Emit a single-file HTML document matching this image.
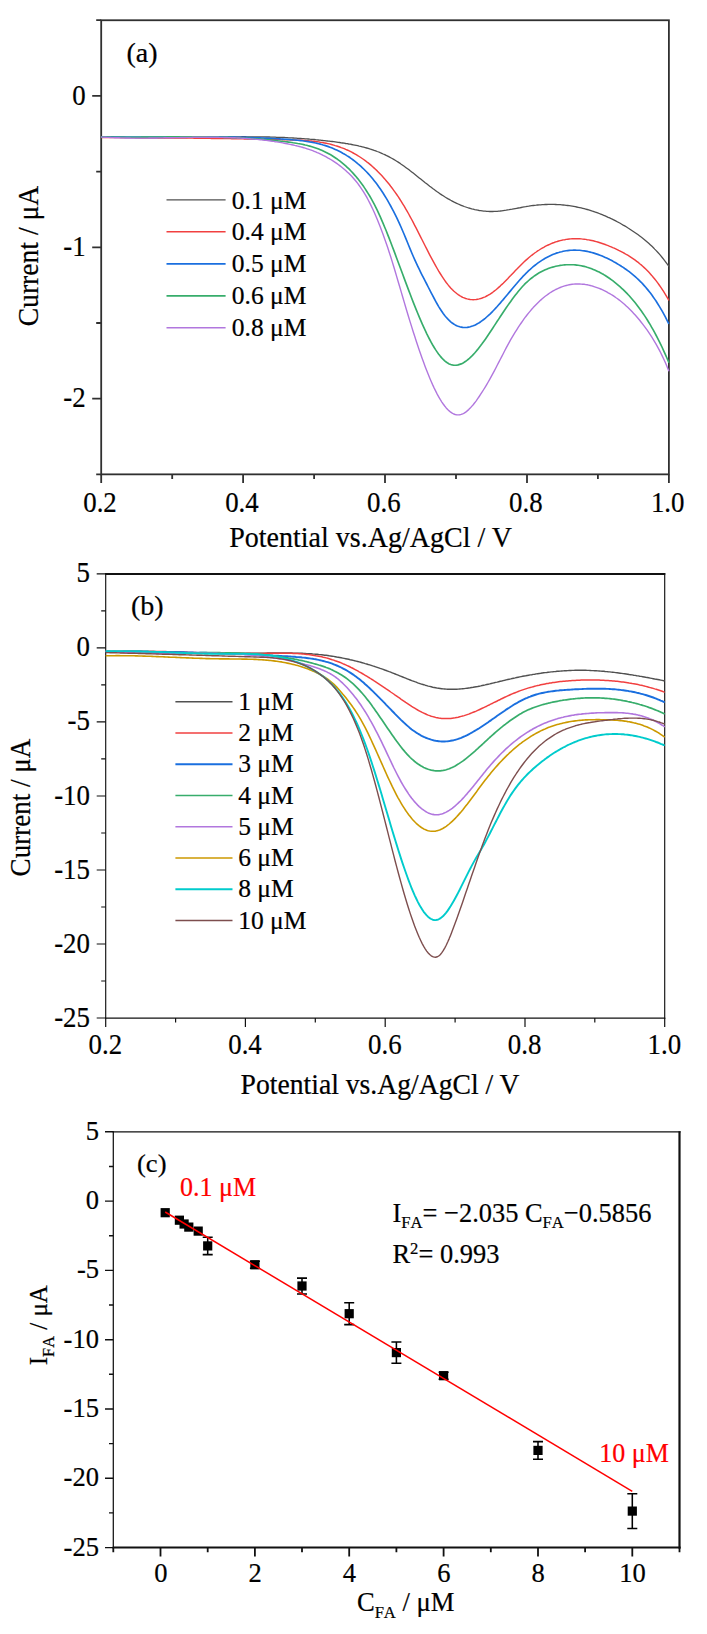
<!DOCTYPE html>
<html><head><meta charset="utf-8"><title>Figure</title>
<style>
html,body{margin:0;padding:0;background:#fff}
svg{display:block;font-family:"Liberation Serif","Times New Roman",serif}
text{stroke-width:0.22px}
</style></head><body>
<svg width="707" height="1634" viewBox="0 0 707 1634">
<rect width="707" height="1634" fill="#fff"/>
<rect x="101.2" y="20.25" width="567.7" height="454.1" fill="none" stroke="#303030" stroke-width="1.8"/>
<path d="M92.2,95.9H101.2M92.2,247.3H101.2M92.2,398.7H101.2M96.2,20.2H101.2M96.2,171.6H101.2M96.2,323.0H101.2M96.2,474.4H101.2" stroke="#303030" stroke-width="1.8" fill="none"/>
<path d="M101.2,474.4V482.9M243.1,474.4V482.9M385.0,474.4V482.9M527.0,474.4V482.9M668.9,474.4V482.9M172.2,474.4V478.9M314.1,474.4V478.9M456.0,474.4V478.9M597.9,474.4V478.9" stroke="#303030" stroke-width="1.8" fill="none"/>
<text transform="translate(85.6,104.6) scale(0.91,1)" font-size="29.5" text-anchor="end" fill="#000" stroke="#000">0</text>
<text transform="translate(85.6,256.0) scale(0.91,1)" font-size="29.5" text-anchor="end" fill="#000" stroke="#000">-1</text>
<text transform="translate(85.6,407.4) scale(0.91,1)" font-size="29.5" text-anchor="end" fill="#000" stroke="#000">-2</text>
<text transform="translate(100.0,511.5) scale(0.91,1)" font-size="29.5" text-anchor="middle" fill="#000" stroke="#000">0.2</text>
<text transform="translate(241.9,511.5) scale(0.91,1)" font-size="29.5" text-anchor="middle" fill="#000" stroke="#000">0.4</text>
<text transform="translate(383.8,511.5) scale(0.91,1)" font-size="29.5" text-anchor="middle" fill="#000" stroke="#000">0.6</text>
<text transform="translate(525.8,511.5) scale(0.91,1)" font-size="29.5" text-anchor="middle" fill="#000" stroke="#000">0.8</text>
<text transform="translate(667.7,511.5) scale(0.91,1)" font-size="29.5" text-anchor="middle" fill="#000" stroke="#000">1.0</text>
<text transform="translate(229.2,547.2) scale(0.925,1)" font-size="30.3" text-anchor="start" fill="#000" stroke="#000">Potential vs.Ag/AgCl / V</text>
<text transform="translate(37.9,326.3) rotate(-90) scale(0.9111250000000001,1)" font-size="30.3" text-anchor="start" fill="#000" stroke="#000">Current / μA</text>
<text transform="translate(126.4,62.3)" font-size="28" text-anchor="start" fill="#000" stroke="#000">(a)</text>
<path d="M166.5,199.9H225.6" stroke="#515151" stroke-width="1.3"/>
<text transform="translate(231.8,208.5)" font-size="25.5" text-anchor="start" fill="#000" stroke="#000">0.1 μM</text>
<path d="M166.5,231.8H225.6" stroke="#F14040" stroke-width="1.45"/>
<text transform="translate(231.8,240.4)" font-size="25.5" text-anchor="start" fill="#000" stroke="#000">0.4 μM</text>
<path d="M166.5,263.8H225.6" stroke="#1A6FDF" stroke-width="1.65"/>
<text transform="translate(231.8,272.4)" font-size="25.5" text-anchor="start" fill="#000" stroke="#000">0.5 μM</text>
<path d="M166.5,295.8H225.6" stroke="#37AD6B" stroke-width="1.65"/>
<text transform="translate(231.8,304.4)" font-size="25.5" text-anchor="start" fill="#000" stroke="#000">0.6 μM</text>
<path d="M166.5,327.7H225.6" stroke="#B177DE" stroke-width="1.4"/>
<text transform="translate(231.8,336.3)" font-size="25.5" text-anchor="start" fill="#000" stroke="#000">0.8 μM</text>
<g fill="none" stroke-linejoin="round">
<path d="M101.2,136.7 102.7,136.7 104.2,136.8 105.7,136.9 107.2,137.0 108.7,137.0 110.2,137.1 111.7,137.2 113.2,137.2 114.7,137.3 116.2,137.3 117.7,137.4 119.2,137.4 120.7,137.5 122.2,137.5 123.7,137.5 125.2,137.6 126.7,137.6 128.2,137.6 129.7,137.7 131.2,137.7 132.7,137.7 134.2,137.7 135.7,137.8 137.2,137.8 138.7,137.8 140.2,137.8 141.7,137.8 143.2,137.8 144.7,137.8 146.2,137.8 147.7,137.8 149.2,137.8 150.7,137.8 152.2,137.8 153.7,137.8 155.2,137.8 156.7,137.8 158.2,137.8 159.7,137.8 161.2,137.8 162.7,137.8 164.2,137.8 165.7,137.7 167.2,137.7 168.7,137.7 170.2,137.7 171.7,137.7 173.2,137.7 174.7,137.6 176.2,137.6 177.7,137.6 179.2,137.6 180.7,137.6 182.2,137.5 183.7,137.5 185.2,137.5 186.7,137.5 188.2,137.4 189.7,137.4 191.2,137.4 192.7,137.4 194.2,137.3 195.7,137.3 197.2,137.3 198.7,137.3 200.2,137.2 201.7,137.2 203.2,137.2 204.7,137.1 206.2,137.1 207.7,137.1 209.2,137.1 210.7,137.0 212.2,137.0 213.7,137.0 215.2,137.0 216.7,137.0 218.2,136.9 219.7,136.9 221.2,136.9 222.7,136.9 224.2,136.9 225.7,136.8 227.2,136.8 228.7,136.8 230.2,136.8 231.7,136.8 233.2,136.8 234.7,136.8 236.2,136.8 237.7,136.8 239.2,136.8 240.7,136.8 242.2,136.7 243.7,136.7 245.2,136.7 246.7,136.8 248.2,136.8 249.7,136.8 251.2,136.8 252.7,136.8 254.2,136.8 255.7,136.8 257.2,136.8 258.7,136.8 260.2,136.9 261.7,136.9 263.2,136.9 264.7,136.9 266.2,137.0 267.7,137.0 269.2,137.0 270.7,137.1 272.2,137.1 273.7,137.2 275.2,137.2 276.7,137.3 278.2,137.3 279.7,137.4 281.2,137.4 282.7,137.5 284.2,137.5 285.7,137.6 287.2,137.7 288.7,137.8 290.2,137.8 291.7,137.9 293.2,138.0 294.7,138.1 296.2,138.2 297.7,138.3 299.2,138.4 300.7,138.5 302.2,138.6 303.7,138.7 305.2,138.8 306.7,138.9 308.2,139.0 309.7,139.2 311.2,139.3 312.7,139.4 314.2,139.5 315.7,139.7 317.2,139.8 318.7,140.0 320.2,140.1 321.7,140.3 323.2,140.5 324.7,140.6 326.2,140.8 327.7,141.0 329.2,141.1 330.7,141.3 332.2,141.5 333.7,141.7 335.2,141.9 336.7,142.1 338.2,142.3 339.7,142.5 341.2,142.8 342.7,143.0 344.2,143.2 345.7,143.5 347.2,143.7 348.7,144.0 350.2,144.2 351.7,144.5 353.2,144.8 354.7,145.1 356.2,145.4 357.7,145.7 359.2,146.1 360.7,146.4 362.2,146.8 363.7,147.2 365.2,147.6 366.7,148.0 368.2,148.4 369.7,148.9 371.2,149.3 372.7,149.8 374.2,150.4 375.7,150.9 377.2,151.5 378.7,152.0 380.2,152.7 381.7,153.3 383.2,154.0 384.7,154.6 386.2,155.4 387.7,156.1 389.2,156.9 390.7,157.7 392.2,158.5 393.7,159.4 395.2,160.3 396.7,161.2 398.2,162.1 399.7,163.1 401.2,164.2 402.7,165.2 404.2,166.3 405.7,167.4 407.2,168.5 408.7,169.6 410.2,170.8 411.7,171.9 413.2,173.1 414.7,174.3 416.2,175.5 417.7,176.7 419.2,177.9 420.7,179.1 422.2,180.3 423.7,181.5 425.2,182.7 426.7,183.8 428.2,185.0 429.7,186.2 431.2,187.3 432.7,188.5 434.2,189.6 435.7,190.7 437.2,191.8 438.7,192.8 440.2,193.9 441.7,194.9 443.2,195.8 444.7,196.8 446.2,197.7 447.7,198.6 449.2,199.4 450.7,200.3 452.2,201.1 453.7,201.9 455.2,202.6 456.7,203.3 458.2,204.0 459.7,204.7 461.2,205.3 462.7,205.9 464.2,206.5 465.7,207.0 467.2,207.5 468.7,208.0 470.2,208.4 471.7,208.9 473.2,209.2 474.7,209.6 476.2,209.9 477.7,210.2 479.2,210.5 480.7,210.7 482.2,210.9 483.7,211.1 485.2,211.2 486.7,211.4 488.2,211.4 489.7,211.5 491.2,211.5 492.7,211.5 494.2,211.4 495.7,211.4 497.2,211.3 498.7,211.1 500.2,211.0 501.7,210.8 503.2,210.6 504.7,210.4 506.2,210.2 507.7,209.9 509.2,209.7 510.7,209.4 512.2,209.2 513.7,208.9 515.2,208.6 516.7,208.3 518.2,208.0 519.7,207.8 521.2,207.5 522.7,207.2 524.2,206.9 525.7,206.7 527.2,206.4 528.7,206.2 530.2,205.9 531.7,205.7 533.2,205.5 534.7,205.3 536.2,205.2 537.7,205.0 539.2,204.9 540.7,204.8 542.2,204.7 543.7,204.6 545.2,204.5 546.7,204.5 548.2,204.4 549.7,204.4 551.2,204.4 552.7,204.4 554.2,204.4 555.7,204.5 557.2,204.6 558.7,204.6 560.2,204.7 561.7,204.9 563.2,205.0 564.7,205.1 566.2,205.3 567.7,205.5 569.2,205.7 570.7,205.9 572.2,206.1 573.7,206.4 575.2,206.7 576.7,207.0 578.2,207.3 579.7,207.6 581.2,207.9 582.7,208.3 584.2,208.7 585.7,209.1 587.2,209.5 588.7,209.9 590.2,210.4 591.7,210.9 593.2,211.3 594.7,211.9 596.2,212.4 597.7,212.9 599.2,213.5 600.7,214.1 602.2,214.7 603.7,215.3 605.2,215.9 606.7,216.6 608.2,217.3 609.7,217.9 611.2,218.7 612.7,219.4 614.2,220.1 615.7,220.9 617.2,221.7 618.7,222.5 620.2,223.3 621.7,224.2 623.2,225.1 624.7,225.9 626.2,226.8 627.7,227.8 629.2,228.7 630.7,229.7 632.2,230.7 633.7,231.7 635.2,232.7 636.7,233.7 638.2,234.8 639.7,235.9 641.2,237.1 642.7,238.2 644.2,239.4 645.7,240.7 647.2,242.0 648.7,243.3 650.2,244.7 651.7,246.1 653.2,247.5 654.7,249.1 656.2,250.6 657.7,252.2 659.2,253.9 660.7,255.7 662.2,257.5 663.7,259.4 665.2,261.3 666.7,263.3 668.2,265.4 668.9,266.4" stroke="#515151" stroke-width="1.3"/>
<path d="M101.2,137.4 102.7,137.4 104.2,137.4 105.7,137.4 107.2,137.4 108.7,137.4 110.2,137.4 111.7,137.4 113.2,137.4 114.7,137.5 116.2,137.5 117.7,137.5 119.2,137.5 120.7,137.5 122.2,137.5 123.7,137.5 125.2,137.5 126.7,137.6 128.2,137.6 129.7,137.6 131.2,137.6 132.7,137.6 134.2,137.6 135.7,137.6 137.2,137.6 138.7,137.6 140.2,137.7 141.7,137.7 143.2,137.7 144.7,137.7 146.2,137.7 147.7,137.7 149.2,137.7 150.7,137.7 152.2,137.8 153.7,137.8 155.2,137.8 156.7,137.8 158.2,137.8 159.7,137.8 161.2,137.8 162.7,137.8 164.2,137.9 165.7,137.9 167.2,137.9 168.7,137.9 170.2,137.9 171.7,137.9 173.2,137.9 174.7,138.0 176.2,138.0 177.7,138.0 179.2,138.0 180.7,138.0 182.2,138.0 183.7,138.0 185.2,138.1 186.7,138.1 188.2,138.1 189.7,138.1 191.2,138.1 192.7,138.1 194.2,138.2 195.7,138.2 197.2,138.2 198.7,138.2 200.2,138.2 201.7,138.2 203.2,138.3 204.7,138.3 206.2,138.3 207.7,138.3 209.2,138.3 210.7,138.4 212.2,138.4 213.7,138.4 215.2,138.4 216.7,138.4 218.2,138.5 219.7,138.5 221.2,138.5 222.7,138.5 224.2,138.5 225.7,138.6 227.2,138.6 228.7,138.6 230.2,138.6 231.7,138.7 233.2,138.7 234.7,138.7 236.2,138.7 237.7,138.8 239.2,138.8 240.7,138.8 242.2,138.8 243.7,138.9 245.2,138.9 246.7,138.9 248.2,138.9 249.7,139.0 251.2,139.0 252.7,139.0 254.2,139.1 255.7,139.1 257.2,139.1 258.7,139.1 260.2,139.2 261.7,139.2 263.2,139.2 264.7,139.3 266.2,139.3 267.7,139.3 269.2,139.4 270.7,139.4 272.2,139.4 273.7,139.5 275.2,139.5 276.7,139.5 278.2,139.6 279.7,139.6 281.2,139.6 282.7,139.7 284.2,139.7 285.7,139.7 287.2,139.8 288.7,139.8 290.2,139.9 291.7,139.9 293.2,140.0 294.7,140.0 296.2,140.1 297.7,140.1 299.2,140.2 300.7,140.3 302.2,140.3 303.7,140.4 305.2,140.5 306.7,140.6 308.2,140.7 309.7,140.9 311.2,141.0 312.7,141.2 314.2,141.3 315.7,141.5 317.2,141.7 318.7,141.9 320.2,142.2 321.7,142.4 323.2,142.7 324.7,143.0 326.2,143.3 327.7,143.6 329.2,143.9 330.7,144.3 332.2,144.7 333.7,145.1 335.2,145.6 336.7,146.0 338.2,146.5 339.7,147.0 341.2,147.6 342.7,148.1 344.2,148.7 345.7,149.4 347.2,150.0 348.7,150.7 350.2,151.4 351.7,152.2 353.2,153.0 354.7,153.8 356.2,154.7 357.7,155.6 359.2,156.5 360.7,157.5 362.2,158.5 363.7,159.5 365.2,160.6 366.7,161.8 368.2,162.9 369.7,164.1 371.2,165.4 372.7,166.7 374.2,168.1 375.7,169.5 377.2,170.9 378.7,172.4 380.2,174.0 381.7,175.6 383.2,177.2 384.7,178.9 386.2,180.7 387.7,182.5 389.2,184.3 390.7,186.3 392.2,188.2 393.7,190.3 395.2,192.4 396.7,194.5 398.2,196.7 399.7,199.0 401.2,201.3 402.7,203.8 404.2,206.2 405.7,208.8 407.2,211.4 408.7,214.0 410.2,216.8 411.7,219.5 413.2,222.4 414.7,225.3 416.2,228.2 417.7,231.1 419.2,234.1 420.7,237.1 422.2,240.0 423.7,243.0 425.2,246.0 426.7,248.9 428.2,251.9 429.7,254.8 431.2,257.6 432.7,260.4 434.2,263.2 435.7,265.9 437.2,268.5 438.7,271.1 440.2,273.5 441.7,275.9 443.2,278.2 444.7,280.4 446.2,282.5 447.7,284.4 449.2,286.2 450.7,287.9 452.2,289.5 453.7,291.0 455.2,292.3 456.7,293.5 458.2,294.6 459.7,295.6 461.2,296.5 462.7,297.3 464.2,297.9 465.7,298.5 467.2,298.9 468.7,299.2 470.2,299.5 471.7,299.6 473.2,299.7 474.7,299.6 476.2,299.5 477.7,299.2 479.2,298.9 480.7,298.5 482.2,298.0 483.7,297.4 485.2,296.8 486.7,296.0 488.2,295.2 489.7,294.3 491.2,293.3 492.7,292.3 494.2,291.1 495.7,290.0 497.2,288.7 498.7,287.4 500.2,286.1 501.7,284.6 503.2,283.2 504.7,281.7 506.2,280.2 507.7,278.7 509.2,277.1 510.7,275.6 512.2,274.0 513.7,272.4 515.2,270.8 516.7,269.3 518.2,267.7 519.7,266.2 521.2,264.7 522.7,263.2 524.2,261.8 525.7,260.4 527.2,259.1 528.7,257.8 530.2,256.5 531.7,255.3 533.2,254.2 534.7,253.0 536.2,252.0 537.7,250.9 539.2,250.0 540.7,249.0 542.2,248.1 543.7,247.3 545.2,246.4 546.7,245.7 548.2,245.0 549.7,244.3 551.2,243.6 552.7,243.0 554.2,242.5 555.7,241.9 557.2,241.5 558.7,241.0 560.2,240.6 561.7,240.3 563.2,239.9 564.7,239.7 566.2,239.4 567.7,239.2 569.2,239.0 570.7,238.9 572.2,238.8 573.7,238.7 575.2,238.7 576.7,238.7 578.2,238.8 579.7,238.8 581.2,238.9 582.7,239.1 584.2,239.2 585.7,239.4 587.2,239.7 588.7,239.9 590.2,240.2 591.7,240.5 593.2,240.8 594.7,241.2 596.2,241.6 597.7,242.0 599.2,242.5 600.7,243.0 602.2,243.5 603.7,244.0 605.2,244.5 606.7,245.1 608.2,245.7 609.7,246.3 611.2,246.9 612.7,247.6 614.2,248.2 615.7,248.9 617.2,249.6 618.7,250.4 620.2,251.1 621.7,251.9 623.2,252.7 624.7,253.5 626.2,254.4 627.7,255.2 629.2,256.1 630.7,257.1 632.2,258.1 633.7,259.1 635.2,260.2 636.7,261.3 638.2,262.4 639.7,263.7 641.2,264.9 642.7,266.2 644.2,267.6 645.7,269.0 647.2,270.5 648.7,272.1 650.2,273.7 651.7,275.4 653.2,277.2 654.7,279.0 656.2,280.9 657.7,282.9 659.2,285.0 660.7,287.1 662.2,289.4 663.7,291.7 665.2,294.1 666.7,296.6 668.2,299.2 668.9,300.5" stroke="#F14040" stroke-width="1.45"/>
<path d="M101.2,137.0 102.7,137.0 104.2,137.0 105.7,137.0 107.2,137.1 108.7,137.1 110.2,137.1 111.7,137.1 113.2,137.1 114.7,137.1 116.2,137.1 117.7,137.1 119.2,137.1 120.7,137.1 122.2,137.1 123.7,137.1 125.2,137.1 126.7,137.1 128.2,137.1 129.7,137.1 131.2,137.1 132.7,137.1 134.2,137.1 135.7,137.1 137.2,137.1 138.7,137.1 140.2,137.1 141.7,137.1 143.2,137.1 144.7,137.1 146.2,137.1 147.7,137.1 149.2,137.1 150.7,137.1 152.2,137.1 153.7,137.0 155.2,137.0 156.7,137.0 158.2,137.0 159.7,137.0 161.2,137.0 162.7,137.0 164.2,137.0 165.7,137.0 167.2,137.0 168.7,136.9 170.2,136.9 171.7,136.9 173.2,136.9 174.7,136.9 176.2,136.9 177.7,136.9 179.2,136.9 180.7,136.9 182.2,136.9 183.7,136.9 185.2,136.9 186.7,136.8 188.2,136.8 189.7,136.8 191.2,136.8 192.7,136.8 194.2,136.8 195.7,136.8 197.2,136.8 198.7,136.8 200.2,136.8 201.7,136.8 203.2,136.8 204.7,136.8 206.2,136.8 207.7,136.8 209.2,136.8 210.7,136.8 212.2,136.9 213.7,136.9 215.2,136.9 216.7,136.9 218.2,136.9 219.7,136.9 221.2,136.9 222.7,136.9 224.2,137.0 225.7,137.0 227.2,137.0 228.7,137.0 230.2,137.0 231.7,137.1 233.2,137.1 234.7,137.1 236.2,137.2 237.7,137.2 239.2,137.2 240.7,137.3 242.2,137.3 243.7,137.3 245.2,137.4 246.7,137.4 248.2,137.5 249.7,137.5 251.2,137.6 252.7,137.6 254.2,137.7 255.7,137.7 257.2,137.8 258.7,137.8 260.2,137.9 261.7,138.0 263.2,138.0 264.7,138.1 266.2,138.2 267.7,138.2 269.2,138.3 270.7,138.4 272.2,138.5 273.7,138.5 275.2,138.6 276.7,138.7 278.2,138.8 279.7,138.9 281.2,139.0 282.7,139.1 284.2,139.2 285.7,139.3 287.2,139.4 288.7,139.5 290.2,139.6 291.7,139.7 293.2,139.9 294.7,140.0 296.2,140.1 297.7,140.3 299.2,140.4 300.7,140.6 302.2,140.8 303.7,141.0 305.2,141.2 306.7,141.4 308.2,141.6 309.7,141.9 311.2,142.1 312.7,142.4 314.2,142.7 315.7,143.0 317.2,143.4 318.7,143.7 320.2,144.1 321.7,144.5 323.2,145.0 324.7,145.4 326.2,145.9 327.7,146.4 329.2,146.9 330.7,147.5 332.2,148.1 333.7,148.7 335.2,149.4 336.7,150.1 338.2,150.8 339.7,151.5 341.2,152.3 342.7,153.2 344.2,154.0 345.7,154.9 347.2,155.9 348.7,156.8 350.2,157.8 351.7,158.9 353.2,160.0 354.7,161.1 356.2,162.3 357.7,163.6 359.2,164.8 360.7,166.2 362.2,167.6 363.7,169.0 365.2,170.5 366.7,172.0 368.2,173.6 369.7,175.3 371.2,177.0 372.7,178.8 374.2,180.7 375.7,182.6 377.2,184.6 378.7,186.7 380.2,188.8 381.7,191.0 383.2,193.3 384.7,195.7 386.2,198.1 387.7,200.7 389.2,203.3 390.7,206.0 392.2,208.8 393.7,211.7 395.2,214.7 396.7,217.7 398.2,220.9 399.7,224.1 401.2,227.5 402.7,231.0 404.2,234.5 405.7,238.1 407.2,241.8 408.7,245.5 410.2,249.1 411.7,252.7 413.2,256.2 414.7,259.6 416.2,262.9 417.7,266.1 419.2,269.2 420.7,272.3 422.2,275.3 423.7,278.2 425.2,281.1 426.7,284.0 428.2,287.0 429.7,289.9 431.2,292.8 432.7,295.7 434.2,298.5 435.7,301.3 437.2,304.0 438.7,306.6 440.2,309.0 441.7,311.3 443.2,313.5 444.7,315.5 446.2,317.3 447.7,318.9 449.2,320.4 450.7,321.8 452.2,323.0 453.7,324.0 455.2,324.9 456.7,325.7 458.2,326.3 459.7,326.8 461.2,327.1 462.7,327.4 464.2,327.5 465.7,327.5 467.2,327.4 468.7,327.1 470.2,326.8 471.7,326.3 473.2,325.8 474.7,325.2 476.2,324.4 477.7,323.6 479.2,322.7 480.7,321.7 482.2,320.6 483.7,319.5 485.2,318.3 486.7,317.0 488.2,315.7 489.7,314.3 491.2,312.8 492.7,311.3 494.2,309.7 495.7,308.1 497.2,306.5 498.7,304.8 500.2,303.1 501.7,301.3 503.2,299.6 504.7,297.8 506.2,296.0 507.7,294.2 509.2,292.4 510.7,290.6 512.2,288.8 513.7,287.0 515.2,285.2 516.7,283.5 518.2,281.7 519.7,280.0 521.2,278.4 522.7,276.7 524.2,275.2 525.7,273.6 527.2,272.2 528.7,270.7 530.2,269.4 531.7,268.0 533.2,266.7 534.7,265.5 536.2,264.3 537.7,263.2 539.2,262.1 540.7,261.1 542.2,260.1 543.7,259.2 545.2,258.3 546.7,257.5 548.2,256.7 549.7,256.0 551.2,255.3 552.7,254.6 554.2,254.0 555.7,253.4 557.2,252.9 558.7,252.5 560.2,252.0 561.7,251.7 563.2,251.3 564.7,251.0 566.2,250.8 567.7,250.6 569.2,250.4 570.7,250.3 572.2,250.2 573.7,250.1 575.2,250.1 576.7,250.2 578.2,250.2 579.7,250.3 581.2,250.5 582.7,250.7 584.2,250.9 585.7,251.1 587.2,251.4 588.7,251.7 590.2,252.1 591.7,252.5 593.2,252.9 594.7,253.4 596.2,253.9 597.7,254.4 599.2,254.9 600.7,255.5 602.2,256.1 603.7,256.7 605.2,257.4 606.7,258.1 608.2,258.8 609.7,259.6 611.2,260.3 612.7,261.1 614.2,262.0 615.7,262.8 617.2,263.7 618.7,264.6 620.2,265.5 621.7,266.5 623.2,267.4 624.7,268.5 626.2,269.5 627.7,270.6 629.2,271.7 630.7,272.9 632.2,274.1 633.7,275.3 635.2,276.6 636.7,278.0 638.2,279.4 639.7,280.8 641.2,282.3 642.7,283.9 644.2,285.6 645.7,287.3 647.2,289.1 648.7,290.9 650.2,292.8 651.7,294.8 653.2,296.9 654.7,299.1 656.2,301.3 657.7,303.7 659.2,306.1 660.7,308.6 662.2,311.2 663.7,313.9 665.2,316.7 666.7,319.6 668.2,322.6 668.9,324.0" stroke="#1A6FDF" stroke-width="1.65"/>
<path d="M101.2,137.0 102.7,137.1 104.2,137.1 105.7,137.1 107.2,137.1 108.7,137.1 110.2,137.2 111.7,137.2 113.2,137.2 114.7,137.2 116.2,137.2 117.7,137.2 119.2,137.2 120.7,137.2 122.2,137.2 123.7,137.2 125.2,137.2 126.7,137.2 128.2,137.2 129.7,137.2 131.2,137.2 132.7,137.2 134.2,137.2 135.7,137.2 137.2,137.2 138.7,137.2 140.2,137.2 141.7,137.1 143.2,137.1 144.7,137.1 146.2,137.1 147.7,137.1 149.2,137.1 150.7,137.1 152.2,137.1 153.7,137.0 155.2,137.0 156.7,137.0 158.2,137.0 159.7,137.0 161.2,137.0 162.7,137.0 164.2,137.0 165.7,137.0 167.2,136.9 168.7,136.9 170.2,136.9 171.7,136.9 173.2,136.9 174.7,136.9 176.2,136.9 177.7,136.9 179.2,136.9 180.7,136.9 182.2,136.9 183.7,136.9 185.2,136.9 186.7,136.9 188.2,136.9 189.7,136.9 191.2,136.9 192.7,136.9 194.2,136.9 195.7,136.9 197.2,136.9 198.7,136.9 200.2,136.9 201.7,136.9 203.2,136.9 204.7,136.9 206.2,136.9 207.7,137.0 209.2,137.0 210.7,137.0 212.2,137.0 213.7,137.1 215.2,137.1 216.7,137.1 218.2,137.1 219.7,137.2 221.2,137.2 222.7,137.3 224.2,137.3 225.7,137.3 227.2,137.4 228.7,137.4 230.2,137.5 231.7,137.5 233.2,137.6 234.7,137.7 236.2,137.7 237.7,137.8 239.2,137.9 240.7,137.9 242.2,138.0 243.7,138.1 245.2,138.2 246.7,138.3 248.2,138.3 249.7,138.4 251.2,138.5 252.7,138.6 254.2,138.7 255.7,138.8 257.2,138.9 258.7,139.0 260.2,139.2 261.7,139.3 263.2,139.4 264.7,139.5 266.2,139.7 267.7,139.8 269.2,139.9 270.7,140.1 272.2,140.2 273.7,140.4 275.2,140.5 276.7,140.7 278.2,140.9 279.7,141.0 281.2,141.2 282.7,141.4 284.2,141.5 285.7,141.7 287.2,141.9 288.7,142.1 290.2,142.3 291.7,142.5 293.2,142.8 294.7,143.0 296.2,143.2 297.7,143.5 299.2,143.7 300.7,144.0 302.2,144.3 303.7,144.6 305.2,145.0 306.7,145.3 308.2,145.7 309.7,146.1 311.2,146.5 312.7,147.0 314.2,147.5 315.7,148.0 317.2,148.5 318.7,149.1 320.2,149.7 321.7,150.3 323.2,151.0 324.7,151.7 326.2,152.4 327.7,153.2 329.2,154.0 330.7,154.8 332.2,155.7 333.7,156.7 335.2,157.7 336.7,158.7 338.2,159.8 339.7,160.9 341.2,162.1 342.7,163.3 344.2,164.6 345.7,165.9 347.2,167.3 348.7,168.7 350.2,170.2 351.7,171.8 353.2,173.4 354.7,175.1 356.2,176.8 357.7,178.6 359.2,180.5 360.7,182.5 362.2,184.5 363.7,186.6 365.2,188.9 366.7,191.2 368.2,193.6 369.7,196.0 371.2,198.7 372.7,201.4 374.2,204.2 375.7,207.1 377.2,210.2 378.7,213.4 380.2,216.7 381.7,220.1 383.2,223.6 384.7,227.2 386.2,230.8 387.7,234.6 389.2,238.4 390.7,242.3 392.2,246.2 393.7,250.1 395.2,254.1 396.7,258.2 398.2,262.2 399.7,266.2 401.2,270.3 402.7,274.3 404.2,278.4 405.7,282.4 407.2,286.4 408.7,290.4 410.2,294.3 411.7,298.2 413.2,302.1 414.7,305.9 416.2,309.6 417.7,313.3 419.2,316.9 420.7,320.4 422.2,323.9 423.7,327.2 425.2,330.4 426.7,333.6 428.2,336.6 429.7,339.5 431.2,342.3 432.7,345.0 434.2,347.5 435.7,349.9 437.2,352.1 438.7,354.2 440.2,356.1 441.7,357.9 443.2,359.4 444.7,360.8 446.2,362.0 447.7,363.1 449.2,363.9 450.7,364.5 452.2,364.9 453.7,365.2 455.2,365.2 456.7,365.1 458.2,364.9 459.7,364.4 461.2,363.9 462.7,363.2 464.2,362.3 465.7,361.3 467.2,360.2 468.7,359.0 470.2,357.6 471.7,356.2 473.2,354.6 474.7,353.0 476.2,351.2 477.7,349.4 479.2,347.5 480.7,345.6 482.2,343.6 483.7,341.5 485.2,339.4 486.7,337.2 488.2,335.0 489.7,332.8 491.2,330.5 492.7,328.2 494.2,325.9 495.7,323.6 497.2,321.3 498.7,319.1 500.2,316.8 501.7,314.5 503.2,312.2 504.7,310.0 506.2,307.8 507.7,305.6 509.2,303.5 510.7,301.4 512.2,299.3 513.7,297.3 515.2,295.3 516.7,293.4 518.2,291.5 519.7,289.7 521.2,288.0 522.7,286.3 524.2,284.7 525.7,283.2 527.2,281.8 528.7,280.5 530.2,279.2 531.7,278.0 533.2,276.8 534.7,275.7 536.2,274.7 537.7,273.7 539.2,272.8 540.7,272.0 542.2,271.2 543.7,270.5 545.2,269.8 546.7,269.2 548.2,268.6 549.7,268.0 551.2,267.5 552.7,267.1 554.2,266.7 555.7,266.3 557.2,266.0 558.7,265.7 560.2,265.4 561.7,265.2 563.2,265.0 564.7,264.9 566.2,264.8 567.7,264.7 569.2,264.7 570.7,264.7 572.2,264.7 573.7,264.8 575.2,264.9 576.7,265.1 578.2,265.3 579.7,265.5 581.2,265.8 582.7,266.1 584.2,266.4 585.7,266.8 587.2,267.3 588.7,267.7 590.2,268.2 591.7,268.8 593.2,269.4 594.7,270.0 596.2,270.7 597.7,271.4 599.2,272.1 600.7,272.9 602.2,273.8 603.7,274.6 605.2,275.5 606.7,276.5 608.2,277.5 609.7,278.5 611.2,279.6 612.7,280.7 614.2,281.9 615.7,283.1 617.2,284.3 618.7,285.6 620.2,286.9 621.7,288.3 623.2,289.7 624.7,291.2 626.2,292.7 627.7,294.2 629.2,295.8 630.7,297.5 632.2,299.2 633.7,301.0 635.2,302.8 636.7,304.7 638.2,306.7 639.7,308.7 641.2,310.8 642.7,312.9 644.2,315.1 645.7,317.4 647.2,319.8 648.7,322.2 650.2,324.7 651.7,327.3 653.2,329.9 654.7,332.7 656.2,335.5 657.7,338.3 659.2,341.3 660.7,344.4 662.2,347.5 663.7,350.8 665.2,354.1 666.7,357.5 668.2,361.0 668.9,362.7" stroke="#37AD6B" stroke-width="1.65"/>
<path d="M101.2,137.0 102.7,137.1 104.2,137.2 105.7,137.3 107.2,137.4 108.7,137.4 110.2,137.5 111.7,137.6 113.2,137.6 114.7,137.7 116.2,137.7 117.7,137.8 119.2,137.8 120.7,137.9 122.2,137.9 123.7,137.9 125.2,138.0 126.7,138.0 128.2,138.0 129.7,138.0 131.2,138.1 132.7,138.1 134.2,138.1 135.7,138.1 137.2,138.1 138.7,138.1 140.2,138.1 141.7,138.1 143.2,138.1 144.7,138.1 146.2,138.1 147.7,138.1 149.2,138.0 150.7,138.0 152.2,138.0 153.7,138.0 155.2,138.0 156.7,138.0 158.2,137.9 159.7,137.9 161.2,137.9 162.7,137.9 164.2,137.8 165.7,137.8 167.2,137.8 168.7,137.8 170.2,137.7 171.7,137.7 173.2,137.7 174.7,137.6 176.2,137.6 177.7,137.6 179.2,137.6 180.7,137.5 182.2,137.5 183.7,137.5 185.2,137.5 186.7,137.4 188.2,137.4 189.7,137.4 191.2,137.4 192.7,137.3 194.2,137.3 195.7,137.3 197.2,137.3 198.7,137.3 200.2,137.3 201.7,137.3 203.2,137.3 204.7,137.3 206.2,137.3 207.7,137.3 209.2,137.3 210.7,137.3 212.2,137.3 213.7,137.3 215.2,137.3 216.7,137.3 218.2,137.3 219.7,137.4 221.2,137.4 222.7,137.4 224.2,137.5 225.7,137.5 227.2,137.5 228.7,137.6 230.2,137.6 231.7,137.7 233.2,137.8 234.7,137.8 236.2,137.9 237.7,138.0 239.2,138.0 240.7,138.1 242.2,138.2 243.7,138.3 245.2,138.4 246.7,138.5 248.2,138.6 249.7,138.7 251.2,138.9 252.7,139.0 254.2,139.1 255.7,139.3 257.2,139.4 258.7,139.6 260.2,139.7 261.7,139.9 263.2,140.0 264.7,140.2 266.2,140.4 267.7,140.6 269.2,140.8 270.7,141.0 272.2,141.2 273.7,141.4 275.2,141.7 276.7,141.9 278.2,142.1 279.7,142.4 281.2,142.6 282.7,142.9 284.2,143.2 285.7,143.5 287.2,143.8 288.7,144.1 290.2,144.4 291.7,144.7 293.2,145.0 294.7,145.4 296.2,145.7 297.7,146.1 299.2,146.5 300.7,146.9 302.2,147.3 303.7,147.7 305.2,148.2 306.7,148.7 308.2,149.1 309.7,149.7 311.2,150.2 312.7,150.7 314.2,151.3 315.7,151.9 317.2,152.6 318.7,153.2 320.2,153.9 321.7,154.6 323.2,155.4 324.7,156.1 326.2,156.9 327.7,157.8 329.2,158.6 330.7,159.5 332.2,160.4 333.7,161.4 335.2,162.4 336.7,163.4 338.2,164.5 339.7,165.6 341.2,166.8 342.7,168.0 344.2,169.2 345.7,170.5 347.2,171.9 348.7,173.3 350.2,174.8 351.7,176.3 353.2,178.0 354.7,179.7 356.2,181.5 357.7,183.4 359.2,185.5 360.7,187.6 362.2,189.8 363.7,192.2 365.2,194.6 366.7,197.2 368.2,200.0 369.7,202.9 371.2,205.9 372.7,209.0 374.2,212.3 375.7,215.7 377.2,219.2 378.7,222.9 380.2,226.7 381.7,230.7 383.2,234.7 384.7,238.9 386.2,243.2 387.7,247.6 389.2,252.2 390.7,256.8 392.2,261.6 393.7,266.5 395.2,271.5 396.7,276.6 398.2,281.7 399.7,286.8 401.2,291.9 402.7,297.0 404.2,302.1 405.7,307.2 407.2,312.2 408.7,317.2 410.2,322.1 411.7,326.9 413.2,331.7 414.7,336.3 416.2,341.0 417.7,345.5 419.2,349.9 420.7,354.3 422.2,358.5 423.7,362.6 425.2,366.7 426.7,370.6 428.2,374.3 429.7,378.0 431.2,381.5 432.7,384.9 434.2,388.1 435.7,391.1 437.2,394.1 438.7,396.8 440.2,399.4 441.7,401.8 443.2,404.0 444.7,406.0 446.2,407.9 447.7,409.5 449.2,410.9 450.7,412.2 452.2,413.2 453.7,414.0 455.2,414.5 456.7,414.9 458.2,414.9 459.7,414.8 461.2,414.4 462.7,413.8 464.2,413.1 465.7,412.1 467.2,410.9 468.7,409.6 470.2,408.1 471.7,406.4 473.2,404.7 474.7,402.8 476.2,400.8 477.7,398.7 479.2,396.5 480.7,394.2 482.2,391.9 483.7,389.5 485.2,387.1 486.7,384.6 488.2,382.0 489.7,379.4 491.2,376.7 492.7,373.9 494.2,371.1 495.7,368.2 497.2,365.3 498.7,362.4 500.2,359.5 501.7,356.6 503.2,353.7 504.7,350.8 506.2,347.9 507.7,345.1 509.2,342.4 510.7,339.7 512.2,337.1 513.7,334.6 515.2,332.2 516.7,329.8 518.2,327.4 519.7,325.2 521.2,323.0 522.7,320.8 524.2,318.7 525.7,316.7 527.2,314.8 528.7,312.9 530.2,311.1 531.7,309.3 533.2,307.6 534.7,306.0 536.2,304.4 537.7,302.9 539.2,301.5 540.7,300.1 542.2,298.8 543.7,297.5 545.2,296.3 546.7,295.2 548.2,294.1 549.7,293.0 551.2,292.1 552.7,291.2 554.2,290.3 555.7,289.5 557.2,288.8 558.7,288.1 560.2,287.5 561.7,286.9 563.2,286.4 564.7,285.9 566.2,285.5 567.7,285.1 569.2,284.8 570.7,284.5 572.2,284.3 573.7,284.1 575.2,284.0 576.7,284.0 578.2,284.0 579.7,284.0 581.2,284.1 582.7,284.2 584.2,284.3 585.7,284.6 587.2,284.8 588.7,285.1 590.2,285.5 591.7,285.9 593.2,286.3 594.7,286.8 596.2,287.3 597.7,287.8 599.2,288.4 600.7,289.0 602.2,289.7 603.7,290.4 605.2,291.1 606.7,291.9 608.2,292.8 609.7,293.6 611.2,294.5 612.7,295.4 614.2,296.4 615.7,297.5 617.2,298.5 618.7,299.6 620.2,300.8 621.7,302.0 623.2,303.2 624.7,304.5 626.2,305.9 627.7,307.3 629.2,308.7 630.7,310.2 632.2,311.8 633.7,313.4 635.2,315.0 636.7,316.7 638.2,318.5 639.7,320.3 641.2,322.2 642.7,324.1 644.2,326.1 645.7,328.1 647.2,330.2 648.7,332.4 650.2,334.6 651.7,336.9 653.2,339.3 654.7,341.8 656.2,344.4 657.7,347.1 659.2,349.9 660.7,352.8 662.2,355.9 663.7,359.0 665.2,362.3 666.7,365.8 668.2,369.4 668.9,371.2" stroke="#B177DE" stroke-width="1.4"/>
</g>
<path d="M105.7,572.90V1018.62" stroke="#111" stroke-width="1.15"/>
<path d="M664.7,572.90V1018.62" stroke="#111" stroke-width="1.15"/>
<path d="M105.12,573.9H665.28" stroke="#111" stroke-width="2.0"/>
<path d="M105.12,1018.0H665.28" stroke="#111" stroke-width="1.25"/>
<path d="M96.7,573.9H105.7M96.7,647.9H105.7M96.7,721.9H105.7M96.7,796.0H105.7M96.7,870.0H105.7M96.7,944.0H105.7M96.7,1018.0H105.7M101.2,610.9H105.7M101.2,684.9H105.7M101.2,758.9H105.7M101.2,833.0H105.7M101.2,907.0H105.7M101.2,981.0H105.7" stroke="#111" stroke-width="1.2" fill="none"/>
<path d="M105.7,1018.0V1027.0M245.4,1018.0V1027.0M385.2,1018.0V1027.0M525.0,1018.0V1027.0M664.7,1018.0V1027.0M175.6,1018.0V1022.5M315.3,1018.0V1022.5M455.1,1018.0V1022.5M594.8,1018.0V1022.5" stroke="#111" stroke-width="1.2" fill="none"/>
<text transform="translate(89.9,582.4) scale(0.91,1)" font-size="29.5" text-anchor="end" fill="#000" stroke="#000">5</text>
<text transform="translate(89.9,656.4) scale(0.91,1)" font-size="29.5" text-anchor="end" fill="#000" stroke="#000">0</text>
<text transform="translate(89.9,730.4) scale(0.91,1)" font-size="29.5" text-anchor="end" fill="#000" stroke="#000">-5</text>
<text transform="translate(89.9,804.5) scale(0.91,1)" font-size="29.5" text-anchor="end" fill="#000" stroke="#000">-10</text>
<text transform="translate(89.9,878.5) scale(0.91,1)" font-size="29.5" text-anchor="end" fill="#000" stroke="#000">-15</text>
<text transform="translate(89.9,952.5) scale(0.91,1)" font-size="29.5" text-anchor="end" fill="#000" stroke="#000">-20</text>
<text transform="translate(89.9,1026.5) scale(0.91,1)" font-size="29.5" text-anchor="end" fill="#000" stroke="#000">-25</text>
<text transform="translate(105.3,1054.4) scale(0.91,1)" font-size="29.5" text-anchor="middle" fill="#000" stroke="#000">0.2</text>
<text transform="translate(245.0,1054.4) scale(0.91,1)" font-size="29.5" text-anchor="middle" fill="#000" stroke="#000">0.4</text>
<text transform="translate(384.8,1054.4) scale(0.91,1)" font-size="29.5" text-anchor="middle" fill="#000" stroke="#000">0.6</text>
<text transform="translate(524.6,1054.4) scale(0.91,1)" font-size="29.5" text-anchor="middle" fill="#000" stroke="#000">0.8</text>
<text transform="translate(664.3,1054.4) scale(0.91,1)" font-size="29.5" text-anchor="middle" fill="#000" stroke="#000">1.0</text>
<text transform="translate(240.6,1094.0) scale(0.95,1)" font-size="29.1" text-anchor="start" fill="#000" stroke="#000">Potential vs.Ag/AgCl / V</text>
<text transform="translate(30.0,876.4) rotate(-90) scale(0.892625,1)" font-size="30.3" text-anchor="start" fill="#000" stroke="#000">Current / μA</text>
<text transform="translate(130.9,614.7)" font-size="28" text-anchor="start" fill="#000" stroke="#000">(b)</text>
<path d="M175.4,701.8H232.5" stroke="#515151" stroke-width="1.4"/>
<text transform="translate(238.2,709.8)" font-size="25.5" text-anchor="start" fill="#000" stroke="#000">1 μM</text>
<path d="M175.4,733.0H232.5" stroke="#F14040" stroke-width="1.5"/>
<text transform="translate(238.2,741.0)" font-size="25.5" text-anchor="start" fill="#000" stroke="#000">2 μM</text>
<path d="M175.4,764.3H232.5" stroke="#1A6FDF" stroke-width="1.9"/>
<text transform="translate(238.2,772.3)" font-size="25.5" text-anchor="start" fill="#000" stroke="#000">3 μM</text>
<path d="M175.4,795.5H232.5" stroke="#37AD6B" stroke-width="1.7"/>
<text transform="translate(238.2,803.5)" font-size="25.5" text-anchor="start" fill="#000" stroke="#000">4 μM</text>
<path d="M175.4,826.8H232.5" stroke="#B177DE" stroke-width="1.6"/>
<text transform="translate(238.2,834.8)" font-size="25.5" text-anchor="start" fill="#000" stroke="#000">5 μM</text>
<path d="M175.4,858.0H232.5" stroke="#CC9900" stroke-width="1.6"/>
<text transform="translate(238.2,866.0)" font-size="25.5" text-anchor="start" fill="#000" stroke="#000">6 μM</text>
<path d="M175.4,889.2H232.5" stroke="#00CBCC" stroke-width="1.9"/>
<text transform="translate(238.2,897.2)" font-size="25.5" text-anchor="start" fill="#000" stroke="#000">8 μM</text>
<path d="M175.4,920.5H232.5" stroke="#7D4E4E" stroke-width="1.4"/>
<text transform="translate(238.2,928.5)" font-size="25.5" text-anchor="start" fill="#000" stroke="#000">10 μM</text>
<g fill="none" stroke-linejoin="round">
<path d="M105.7,651.6 107.2,651.6 108.7,651.6 110.2,651.6 111.7,651.6 113.2,651.6 114.7,651.6 116.2,651.6 117.7,651.6 119.2,651.6 120.7,651.6 122.2,651.6 123.7,651.6 125.2,651.6 126.7,651.6 128.2,651.6 129.7,651.6 131.2,651.6 132.7,651.6 134.2,651.7 135.7,651.7 137.2,651.7 138.7,651.7 140.2,651.7 141.7,651.7 143.2,651.8 144.7,651.8 146.2,651.8 147.7,651.8 149.2,651.8 150.7,651.9 152.2,651.9 153.7,651.9 155.2,651.9 156.7,652.0 158.2,652.0 159.7,652.0 161.2,652.0 162.7,652.1 164.2,652.1 165.7,652.1 167.2,652.1 168.7,652.2 170.2,652.2 171.7,652.2 173.2,652.3 174.7,652.3 176.2,652.3 177.7,652.4 179.2,652.4 180.7,652.4 182.2,652.4 183.7,652.5 185.2,652.5 186.7,652.5 188.2,652.6 189.7,652.6 191.2,652.6 192.7,652.6 194.2,652.7 195.7,652.7 197.2,652.7 198.7,652.8 200.2,652.8 201.7,652.8 203.2,652.8 204.7,652.9 206.2,652.9 207.7,652.9 209.2,652.9 210.7,653.0 212.2,653.0 213.7,653.0 215.2,653.0 216.7,653.0 218.2,653.1 219.7,653.1 221.2,653.1 222.7,653.1 224.2,653.1 225.7,653.1 227.2,653.2 228.7,653.2 230.2,653.2 231.7,653.2 233.2,653.2 234.7,653.2 236.2,653.2 237.7,653.2 239.2,653.2 240.7,653.2 242.2,653.2 243.7,653.2 245.2,653.2 246.7,653.2 248.2,653.2 249.7,653.2 251.2,653.2 252.7,653.2 254.2,653.2 255.7,653.2 257.2,653.2 258.7,653.1 260.2,653.1 261.7,653.1 263.2,653.1 264.7,653.1 266.2,653.1 267.7,653.0 269.2,653.0 270.7,653.0 272.2,653.0 273.7,653.0 275.2,653.0 276.7,653.0 278.2,653.0 279.7,652.9 281.2,652.9 282.7,652.9 284.2,652.9 285.7,653.0 287.2,653.0 288.7,653.0 290.2,653.0 291.7,653.0 293.2,653.1 294.7,653.1 296.2,653.1 297.7,653.2 299.2,653.2 300.7,653.3 302.2,653.3 303.7,653.4 305.2,653.5 306.7,653.6 308.2,653.6 309.7,653.7 311.2,653.8 312.7,654.0 314.2,654.1 315.7,654.2 317.2,654.3 318.7,654.5 320.2,654.6 321.7,654.8 323.2,655.0 324.7,655.2 326.2,655.3 327.7,655.5 329.2,655.8 330.7,656.0 332.2,656.2 333.7,656.4 335.2,656.7 336.7,657.0 338.2,657.2 339.7,657.5 341.2,657.8 342.7,658.1 344.2,658.4 345.7,658.7 347.2,659.0 348.7,659.3 350.2,659.7 351.7,660.0 353.2,660.4 354.7,660.8 356.2,661.1 357.7,661.5 359.2,661.9 360.7,662.3 362.2,662.7 363.7,663.1 365.2,663.6 366.7,664.0 368.2,664.5 369.7,664.9 371.2,665.4 372.7,665.9 374.2,666.3 375.7,666.8 377.2,667.3 378.7,667.8 380.2,668.4 381.7,668.9 383.2,669.4 384.7,670.0 386.2,670.5 387.7,671.1 389.2,671.7 390.7,672.2 392.2,672.8 393.7,673.4 395.2,674.0 396.7,674.6 398.2,675.2 399.7,675.8 401.2,676.4 402.7,677.0 404.2,677.6 405.7,678.2 407.2,678.8 408.7,679.4 410.2,680.0 411.7,680.6 413.2,681.1 414.7,681.7 416.2,682.2 417.7,682.8 419.2,683.3 420.7,683.8 422.2,684.3 423.7,684.7 425.2,685.2 426.7,685.6 428.2,686.1 429.7,686.4 431.2,686.8 432.7,687.2 434.2,687.5 435.7,687.8 437.2,688.1 438.7,688.3 440.2,688.5 441.7,688.7 443.2,688.9 444.7,689.0 446.2,689.1 447.7,689.2 449.2,689.3 450.7,689.3 452.2,689.3 453.7,689.3 455.2,689.2 456.7,689.2 458.2,689.1 459.7,689.0 461.2,688.9 462.7,688.7 464.2,688.6 465.7,688.4 467.2,688.2 468.7,688.0 470.2,687.8 471.7,687.5 473.2,687.3 474.7,687.0 476.2,686.7 477.7,686.5 479.2,686.2 480.7,685.9 482.2,685.5 483.7,685.2 485.2,684.9 486.7,684.5 488.2,684.2 489.7,683.9 491.2,683.5 492.7,683.1 494.2,682.8 495.7,682.4 497.2,682.1 498.7,681.7 500.2,681.3 501.7,681.0 503.2,680.6 504.7,680.3 506.2,679.9 507.7,679.5 509.2,679.2 510.7,678.9 512.2,678.5 513.7,678.2 515.2,677.9 516.7,677.5 518.2,677.2 519.7,676.9 521.2,676.6 522.7,676.3 524.2,676.0 525.7,675.8 527.2,675.5 528.7,675.2 530.2,674.9 531.7,674.7 533.2,674.4 534.7,674.2 536.2,673.9 537.7,673.7 539.2,673.5 540.7,673.3 542.2,673.0 543.7,672.8 545.2,672.6 546.7,672.5 548.2,672.3 549.7,672.1 551.2,671.9 552.7,671.8 554.2,671.6 555.7,671.5 557.2,671.3 558.7,671.2 560.2,671.1 561.7,671.0 563.2,670.9 564.7,670.8 566.2,670.7 567.7,670.6 569.2,670.5 570.7,670.5 572.2,670.4 573.7,670.4 575.2,670.3 576.7,670.3 578.2,670.3 579.7,670.3 581.2,670.3 582.7,670.3 584.2,670.3 585.7,670.3 587.2,670.4 588.7,670.4 590.2,670.5 591.7,670.6 593.2,670.6 594.7,670.7 596.2,670.8 597.7,670.9 599.2,671.0 600.7,671.1 602.2,671.2 603.7,671.3 605.2,671.5 606.7,671.6 608.2,671.8 609.7,671.9 611.2,672.1 612.7,672.2 614.2,672.4 615.7,672.6 617.2,672.8 618.7,673.0 620.2,673.2 621.7,673.4 623.2,673.6 624.7,673.8 626.2,674.0 627.7,674.2 629.2,674.5 630.7,674.7 632.2,674.9 633.7,675.2 635.2,675.4 636.7,675.7 638.2,675.9 639.7,676.2 641.2,676.4 642.7,676.7 644.2,677.0 645.7,677.3 647.2,677.5 648.7,677.8 650.2,678.1 651.7,678.4 653.2,678.7 654.7,679.0 656.2,679.2 657.7,679.5 659.2,679.8 660.7,680.1 662.2,680.4 663.7,680.7 664.7,680.9" stroke="#515151" stroke-width="1.4"/>
<path d="M105.7,651.6 107.2,651.5 108.7,651.5 110.2,651.4 111.7,651.4 113.2,651.3 114.7,651.3 116.2,651.3 117.7,651.2 119.2,651.2 120.7,651.2 122.2,651.2 123.7,651.1 125.2,651.1 126.7,651.1 128.2,651.1 129.7,651.1 131.2,651.1 132.7,651.1 134.2,651.1 135.7,651.1 137.2,651.1 138.7,651.1 140.2,651.1 141.7,651.1 143.2,651.2 144.7,651.2 146.2,651.2 147.7,651.2 149.2,651.3 150.7,651.3 152.2,651.3 153.7,651.3 155.2,651.4 156.7,651.4 158.2,651.4 159.7,651.5 161.2,651.5 162.7,651.6 164.2,651.6 165.7,651.6 167.2,651.7 168.7,651.7 170.2,651.8 171.7,651.8 173.2,651.9 174.7,651.9 176.2,652.0 177.7,652.0 179.2,652.1 180.7,652.1 182.2,652.2 183.7,652.2 185.2,652.3 186.7,652.3 188.2,652.4 189.7,652.4 191.2,652.5 192.7,652.5 194.2,652.6 195.7,652.6 197.2,652.7 198.7,652.7 200.2,652.8 201.7,652.8 203.2,652.9 204.7,652.9 206.2,653.0 207.7,653.0 209.2,653.1 210.7,653.1 212.2,653.2 213.7,653.2 215.2,653.2 216.7,653.3 218.2,653.3 219.7,653.4 221.2,653.4 222.7,653.4 224.2,653.4 225.7,653.5 227.2,653.5 228.7,653.5 230.2,653.6 231.7,653.6 233.2,653.6 234.7,653.6 236.2,653.6 237.7,653.6 239.2,653.6 240.7,653.6 242.2,653.7 243.7,653.7 245.2,653.7 246.7,653.6 248.2,653.6 249.7,653.6 251.2,653.6 252.7,653.6 254.2,653.6 255.7,653.6 257.2,653.5 258.7,653.5 260.2,653.5 261.7,653.4 263.2,653.4 264.7,653.4 266.2,653.3 267.7,653.3 269.2,653.3 270.7,653.3 272.2,653.2 273.7,653.2 275.2,653.2 276.7,653.2 278.2,653.2 279.7,653.2 281.2,653.2 282.7,653.2 284.2,653.2 285.7,653.2 287.2,653.2 288.7,653.2 290.2,653.3 291.7,653.3 293.2,653.4 294.7,653.4 296.2,653.5 297.7,653.6 299.2,653.7 300.7,653.8 302.2,653.9 303.7,654.1 305.2,654.2 306.7,654.4 308.2,654.6 309.7,654.7 311.2,654.9 312.7,655.2 314.2,655.4 315.7,655.7 317.2,655.9 318.7,656.2 320.2,656.5 321.7,656.8 323.2,657.2 324.7,657.5 326.2,657.9 327.7,658.3 329.2,658.7 330.7,659.2 332.2,659.7 333.7,660.1 335.2,660.7 336.7,661.2 338.2,661.7 339.7,662.3 341.2,662.9 342.7,663.6 344.2,664.2 345.7,664.9 347.2,665.6 348.7,666.3 350.2,667.0 351.7,667.8 353.2,668.5 354.7,669.3 356.2,670.1 357.7,670.9 359.2,671.8 360.7,672.6 362.2,673.5 363.7,674.4 365.2,675.3 366.7,676.2 368.2,677.1 369.7,678.0 371.2,679.0 372.7,679.9 374.2,680.9 375.7,681.8 377.2,682.8 378.7,683.8 380.2,684.8 381.7,685.8 383.2,686.8 384.7,687.8 386.2,688.9 387.7,689.9 389.2,690.9 390.7,692.0 392.2,693.0 393.7,694.0 395.2,695.1 396.7,696.1 398.2,697.2 399.7,698.2 401.2,699.3 402.7,700.3 404.2,701.3 405.7,702.4 407.2,703.4 408.7,704.4 410.2,705.4 411.7,706.4 413.2,707.3 414.7,708.2 416.2,709.1 417.7,710.0 419.2,710.8 420.7,711.6 422.2,712.4 423.7,713.1 425.2,713.8 426.7,714.5 428.2,715.1 429.7,715.6 431.2,716.2 432.7,716.6 434.2,717.0 435.7,717.4 437.2,717.7 438.7,718.0 440.2,718.2 441.7,718.4 443.2,718.5 444.7,718.6 446.2,718.6 447.7,718.6 449.2,718.5 450.7,718.4 452.2,718.2 453.7,718.0 455.2,717.8 456.7,717.5 458.2,717.2 459.7,716.8 461.2,716.4 462.7,716.0 464.2,715.6 465.7,715.1 467.2,714.6 468.7,714.1 470.2,713.5 471.7,712.9 473.2,712.3 474.7,711.7 476.2,711.1 477.7,710.4 479.2,709.7 480.7,709.0 482.2,708.3 483.7,707.6 485.2,706.9 486.7,706.2 488.2,705.4 489.7,704.7 491.2,703.9 492.7,703.2 494.2,702.4 495.7,701.7 497.2,701.0 498.7,700.2 500.2,699.5 501.7,698.7 503.2,698.0 504.7,697.3 506.2,696.6 507.7,695.9 509.2,695.2 510.7,694.5 512.2,693.9 513.7,693.3 515.2,692.7 516.7,692.1 518.2,691.5 519.7,690.9 521.2,690.4 522.7,689.9 524.2,689.4 525.7,688.9 527.2,688.4 528.7,687.9 530.2,687.5 531.7,687.1 533.2,686.7 534.7,686.3 536.2,685.9 537.7,685.5 539.2,685.2 540.7,684.8 542.2,684.5 543.7,684.2 545.2,683.9 546.7,683.6 548.2,683.4 549.7,683.1 551.2,682.9 552.7,682.6 554.2,682.4 555.7,682.2 557.2,682.0 558.7,681.8 560.2,681.6 561.7,681.5 563.2,681.3 564.7,681.2 566.2,681.0 567.7,680.9 569.2,680.8 570.7,680.7 572.2,680.6 573.7,680.5 575.2,680.4 576.7,680.3 578.2,680.3 579.7,680.2 581.2,680.1 582.7,680.1 584.2,680.1 585.7,680.0 587.2,680.0 588.7,680.0 590.2,680.0 591.7,680.0 593.2,680.0 594.7,680.0 596.2,680.0 597.7,680.1 599.2,680.1 600.7,680.2 602.2,680.2 603.7,680.3 605.2,680.4 606.7,680.5 608.2,680.6 609.7,680.7 611.2,680.8 612.7,680.9 614.2,681.0 615.7,681.2 617.2,681.3 618.7,681.5 620.2,681.7 621.7,681.9 623.2,682.1 624.7,682.3 626.2,682.5 627.7,682.7 629.2,683.0 630.7,683.2 632.2,683.5 633.7,683.7 635.2,684.0 636.7,684.3 638.2,684.6 639.7,685.0 641.2,685.3 642.7,685.6 644.2,686.0 645.7,686.4 647.2,686.8 648.7,687.2 650.2,687.6 651.7,688.0 653.2,688.4 654.7,688.9 656.2,689.3 657.7,689.8 659.2,690.3 660.7,690.8 662.2,691.3 663.7,691.9 664.7,692.2" stroke="#F14040" stroke-width="1.5"/>
<path d="M105.7,651.6 107.2,651.7 108.7,651.7 110.2,651.7 111.7,651.7 113.2,651.7 114.7,651.7 116.2,651.7 117.7,651.7 119.2,651.7 120.7,651.7 122.2,651.7 123.7,651.7 125.2,651.7 126.7,651.7 128.2,651.7 129.7,651.7 131.2,651.7 132.7,651.7 134.2,651.7 135.7,651.7 137.2,651.8 138.7,651.8 140.2,651.8 141.7,651.8 143.2,651.8 144.7,651.8 146.2,651.8 147.7,651.8 149.2,651.9 150.7,651.9 152.2,651.9 153.7,651.9 155.2,651.9 156.7,651.9 158.2,651.9 159.7,652.0 161.2,652.0 162.7,652.0 164.2,652.0 165.7,652.0 167.2,652.1 168.7,652.1 170.2,652.1 171.7,652.1 173.2,652.2 174.7,652.2 176.2,652.2 177.7,652.2 179.2,652.3 180.7,652.3 182.2,652.3 183.7,652.3 185.2,652.4 186.7,652.4 188.2,652.4 189.7,652.5 191.2,652.5 192.7,652.5 194.2,652.6 195.7,652.6 197.2,652.6 198.7,652.7 200.2,652.7 201.7,652.7 203.2,652.8 204.7,652.8 206.2,652.8 207.7,652.9 209.2,652.9 210.7,653.0 212.2,653.0 213.7,653.1 215.2,653.1 216.7,653.1 218.2,653.2 219.7,653.2 221.2,653.3 222.7,653.3 224.2,653.4 225.7,653.4 227.2,653.5 228.7,653.5 230.2,653.6 231.7,653.6 233.2,653.7 234.7,653.8 236.2,653.8 237.7,653.9 239.2,653.9 240.7,654.0 242.2,654.0 243.7,654.1 245.2,654.2 246.7,654.2 248.2,654.3 249.7,654.4 251.2,654.4 252.7,654.5 254.2,654.6 255.7,654.6 257.2,654.7 258.7,654.8 260.2,654.9 261.7,654.9 263.2,655.0 264.7,655.1 266.2,655.2 267.7,655.2 269.2,655.3 270.7,655.4 272.2,655.5 273.7,655.6 275.2,655.6 276.7,655.7 278.2,655.8 279.7,655.9 281.2,656.0 282.7,656.1 284.2,656.2 285.7,656.3 287.2,656.3 288.7,656.4 290.2,656.5 291.7,656.6 293.2,656.7 294.7,656.8 296.2,657.0 297.7,657.1 299.2,657.2 300.7,657.3 302.2,657.5 303.7,657.6 305.2,657.8 306.7,658.0 308.2,658.2 309.7,658.4 311.2,658.6 312.7,658.8 314.2,659.1 315.7,659.3 317.2,659.6 318.7,659.9 320.2,660.3 321.7,660.6 323.2,661.0 324.7,661.4 326.2,661.8 327.7,662.2 329.2,662.7 330.7,663.2 332.2,663.7 333.7,664.3 335.2,664.9 336.7,665.5 338.2,666.1 339.7,666.8 341.2,667.5 342.7,668.3 344.2,669.1 345.7,669.9 347.2,670.8 348.7,671.7 350.2,672.6 351.7,673.6 353.2,674.6 354.7,675.7 356.2,676.8 357.7,677.9 359.2,679.1 360.7,680.3 362.2,681.6 363.7,682.8 365.2,684.2 366.7,685.5 368.2,686.9 369.7,688.3 371.2,689.7 372.7,691.1 374.2,692.6 375.7,694.1 377.2,695.6 378.7,697.1 380.2,698.6 381.7,700.1 383.2,701.7 384.7,703.2 386.2,704.8 387.7,706.3 389.2,707.9 390.7,709.4 392.2,711.0 393.7,712.5 395.2,714.1 396.7,715.6 398.2,717.1 399.7,718.6 401.2,720.1 402.7,721.5 404.2,722.9 405.7,724.3 407.2,725.6 408.7,726.9 410.2,728.2 411.7,729.4 413.2,730.5 414.7,731.5 416.2,732.6 417.7,733.5 419.2,734.4 420.7,735.3 422.2,736.1 423.7,736.8 425.2,737.5 426.7,738.1 428.2,738.7 429.7,739.2 431.2,739.7 432.7,740.1 434.2,740.5 435.7,740.8 437.2,741.0 438.7,741.2 440.2,741.4 441.7,741.5 443.2,741.5 444.7,741.5 446.2,741.4 447.7,741.3 449.2,741.1 450.7,740.8 452.2,740.5 453.7,740.2 455.2,739.8 456.7,739.4 458.2,738.9 459.7,738.3 461.2,737.8 462.7,737.1 464.2,736.5 465.7,735.8 467.2,735.1 468.7,734.3 470.2,733.5 471.7,732.7 473.2,731.8 474.7,730.9 476.2,730.0 477.7,729.1 479.2,728.2 480.7,727.2 482.2,726.2 483.7,725.2 485.2,724.2 486.7,723.2 488.2,722.2 489.7,721.1 491.2,720.1 492.7,719.0 494.2,718.0 495.7,716.9 497.2,715.8 498.7,714.8 500.2,713.7 501.7,712.7 503.2,711.7 504.7,710.7 506.2,709.6 507.7,708.6 509.2,707.7 510.7,706.7 512.2,705.8 513.7,704.8 515.2,703.9 516.7,703.1 518.2,702.2 519.7,701.4 521.2,700.6 522.7,699.8 524.2,699.1 525.7,698.4 527.2,697.8 528.7,697.1 530.2,696.6 531.7,696.0 533.2,695.5 534.7,695.0 536.2,694.5 537.7,694.1 539.2,693.7 540.7,693.3 542.2,693.0 543.7,692.7 545.2,692.4 546.7,692.1 548.2,691.8 549.7,691.6 551.2,691.4 552.7,691.2 554.2,691.0 555.7,690.8 557.2,690.6 558.7,690.5 560.2,690.3 561.7,690.2 563.2,690.1 564.7,690.0 566.2,689.9 567.7,689.8 569.2,689.7 570.7,689.6 572.2,689.5 573.7,689.4 575.2,689.3 576.7,689.3 578.2,689.2 579.7,689.1 581.2,689.1 582.7,689.0 584.2,688.9 585.7,688.9 587.2,688.8 588.7,688.8 590.2,688.7 591.7,688.7 593.2,688.7 594.7,688.7 596.2,688.7 597.7,688.7 599.2,688.7 600.7,688.7 602.2,688.7 603.7,688.8 605.2,688.8 606.7,688.9 608.2,688.9 609.7,689.0 611.2,689.1 612.7,689.2 614.2,689.3 615.7,689.4 617.2,689.6 618.7,689.7 620.2,689.9 621.7,690.1 623.2,690.3 624.7,690.5 626.2,690.7 627.7,690.9 629.2,691.2 630.7,691.4 632.2,691.7 633.7,692.0 635.2,692.3 636.7,692.7 638.2,693.0 639.7,693.4 641.2,693.8 642.7,694.2 644.2,694.6 645.7,695.0 647.2,695.5 648.7,696.0 650.2,696.5 651.7,697.0 653.2,697.5 654.7,698.1 656.2,698.7 657.7,699.3 659.2,699.9 660.7,700.6 662.2,701.2 663.7,701.9 664.7,702.4" stroke="#1A6FDF" stroke-width="1.9"/>
<path d="M105.7,651.0 107.2,651.1 108.7,651.2 110.2,651.4 111.7,651.5 113.2,651.6 114.7,651.7 116.2,651.8 117.7,651.9 119.2,652.0 120.7,652.1 122.2,652.2 123.7,652.3 125.2,652.4 126.7,652.4 128.2,652.5 129.7,652.6 131.2,652.6 132.7,652.7 134.2,652.7 135.7,652.8 137.2,652.8 138.7,652.9 140.2,652.9 141.7,652.9 143.2,653.0 144.7,653.0 146.2,653.0 147.7,653.0 149.2,653.0 150.7,653.1 152.2,653.1 153.7,653.1 155.2,653.1 156.7,653.1 158.2,653.1 159.7,653.1 161.2,653.1 162.7,653.1 164.2,653.1 165.7,653.1 167.2,653.1 168.7,653.1 170.2,653.0 171.7,653.0 173.2,653.0 174.7,653.0 176.2,653.0 177.7,653.0 179.2,653.0 180.7,652.9 182.2,652.9 183.7,652.9 185.2,652.9 186.7,652.9 188.2,652.9 189.7,652.8 191.2,652.8 192.7,652.8 194.2,652.8 195.7,652.8 197.2,652.8 198.7,652.8 200.2,652.7 201.7,652.7 203.2,652.7 204.7,652.7 206.2,652.7 207.7,652.7 209.2,652.7 210.7,652.7 212.2,652.7 213.7,652.7 215.2,652.7 216.7,652.7 218.2,652.7 219.7,652.7 221.2,652.8 222.7,652.8 224.2,652.8 225.7,652.8 227.2,652.8 228.7,652.9 230.2,652.9 231.7,653.0 233.2,653.0 234.7,653.0 236.2,653.1 237.7,653.1 239.2,653.2 240.7,653.3 242.2,653.3 243.7,653.4 245.2,653.5 246.7,653.5 248.2,653.6 249.7,653.7 251.2,653.8 252.7,653.9 254.2,654.0 255.7,654.1 257.2,654.2 258.7,654.3 260.2,654.5 261.7,654.6 263.2,654.7 264.7,654.9 266.2,655.0 267.7,655.2 269.2,655.3 270.7,655.5 272.2,655.7 273.7,655.9 275.2,656.0 276.7,656.2 278.2,656.4 279.7,656.7 281.2,656.9 282.7,657.1 284.2,657.3 285.7,657.6 287.2,657.8 288.7,658.1 290.2,658.3 291.7,658.6 293.2,658.9 294.7,659.2 296.2,659.4 297.7,659.7 299.2,660.1 300.7,660.4 302.2,660.7 303.7,661.0 305.2,661.4 306.7,661.7 308.2,662.1 309.7,662.5 311.2,662.9 312.7,663.3 314.2,663.7 315.7,664.1 317.2,664.5 318.7,665.0 320.2,665.4 321.7,665.9 323.2,666.4 324.7,666.9 326.2,667.5 327.7,668.0 329.2,668.6 330.7,669.3 332.2,669.9 333.7,670.7 335.2,671.4 336.7,672.2 338.2,673.0 339.7,673.9 341.2,674.8 342.7,675.7 344.2,676.7 345.7,677.8 347.2,678.9 348.7,680.1 350.2,681.3 351.7,682.6 353.2,683.9 354.7,685.3 356.2,686.8 357.7,688.3 359.2,689.9 360.7,691.6 362.2,693.3 363.7,695.0 365.2,696.8 366.7,698.7 368.2,700.6 369.7,702.6 371.2,704.6 372.7,706.7 374.2,708.7 375.7,710.9 377.2,713.0 378.7,715.2 380.2,717.4 381.7,719.6 383.2,721.8 384.7,724.0 386.2,726.2 387.7,728.4 389.2,730.6 390.7,732.8 392.2,734.9 393.7,737.1 395.2,739.2 396.7,741.3 398.2,743.3 399.7,745.3 401.2,747.2 402.7,749.1 404.2,750.9 405.7,752.7 407.2,754.3 408.7,755.9 410.2,757.5 411.7,758.9 413.2,760.2 414.7,761.5 416.2,762.7 417.7,763.8 419.2,764.8 420.7,765.8 422.2,766.6 423.7,767.4 425.2,768.1 426.7,768.7 428.2,769.3 429.7,769.7 431.2,770.1 432.7,770.4 434.2,770.7 435.7,770.8 437.2,770.9 438.7,770.9 440.2,770.8 441.7,770.6 443.2,770.4 444.7,770.1 446.2,769.7 447.7,769.2 449.2,768.7 450.7,768.1 452.2,767.4 453.7,766.7 455.2,765.9 456.7,765.0 458.2,764.1 459.7,763.1 461.2,762.1 462.7,761.1 464.2,760.0 465.7,758.8 467.2,757.6 468.7,756.4 470.2,755.2 471.7,753.9 473.2,752.6 474.7,751.3 476.2,749.9 477.7,748.6 479.2,747.2 480.7,745.8 482.2,744.5 483.7,743.1 485.2,741.7 486.7,740.3 488.2,738.9 489.7,737.5 491.2,736.2 492.7,734.8 494.2,733.5 495.7,732.2 497.2,730.9 498.7,729.6 500.2,728.4 501.7,727.2 503.2,725.9 504.7,724.8 506.2,723.6 507.7,722.5 509.2,721.3 510.7,720.2 512.2,719.2 513.7,718.2 515.2,717.2 516.7,716.2 518.2,715.2 519.7,714.3 521.2,713.5 522.7,712.6 524.2,711.8 525.7,711.1 527.2,710.3 528.7,709.6 530.2,709.0 531.7,708.4 533.2,707.8 534.7,707.2 536.2,706.7 537.7,706.2 539.2,705.7 540.7,705.2 542.2,704.8 543.7,704.4 545.2,704.0 546.7,703.6 548.2,703.2 549.7,702.9 551.2,702.5 552.7,702.2 554.2,701.9 555.7,701.6 557.2,701.3 558.7,701.0 560.2,700.7 561.7,700.5 563.2,700.2 564.7,700.0 566.2,699.8 567.7,699.6 569.2,699.4 570.7,699.2 572.2,699.0 573.7,698.8 575.2,698.7 576.7,698.5 578.2,698.4 579.7,698.3 581.2,698.2 582.7,698.1 584.2,698.0 585.7,697.9 587.2,697.9 588.7,697.9 590.2,697.8 591.7,697.8 593.2,697.8 594.7,697.8 596.2,697.8 597.7,697.9 599.2,697.9 600.7,698.0 602.2,698.1 603.7,698.2 605.2,698.3 606.7,698.4 608.2,698.5 609.7,698.6 611.2,698.8 612.7,699.0 614.2,699.2 615.7,699.4 617.2,699.6 618.7,699.8 620.2,700.0 621.7,700.3 623.2,700.6 624.7,700.8 626.2,701.1 627.7,701.5 629.2,701.8 630.7,702.1 632.2,702.5 633.7,702.8 635.2,703.2 636.7,703.6 638.2,704.0 639.7,704.5 641.2,704.9 642.7,705.4 644.2,705.8 645.7,706.3 647.2,706.8 648.7,707.4 650.2,707.9 651.7,708.4 653.2,709.0 654.7,709.6 656.2,710.2 657.7,710.8 659.2,711.4 660.7,712.1 662.2,712.7 663.7,713.4 664.7,713.9" stroke="#37AD6B" stroke-width="1.7"/>
<path d="M105.7,651.2 107.2,651.3 108.7,651.5 110.2,651.6 111.7,651.7 113.2,651.8 114.7,652.0 116.2,652.1 117.7,652.2 119.2,652.3 120.7,652.4 122.2,652.4 123.7,652.5 125.2,652.6 126.7,652.7 128.2,652.7 129.7,652.8 131.2,652.9 132.7,652.9 134.2,653.0 135.7,653.0 137.2,653.1 138.7,653.1 140.2,653.2 141.7,653.2 143.2,653.2 144.7,653.2 146.2,653.3 147.7,653.3 149.2,653.3 150.7,653.3 152.2,653.3 153.7,653.4 155.2,653.4 156.7,653.4 158.2,653.4 159.7,653.4 161.2,653.4 162.7,653.4 164.2,653.4 165.7,653.4 167.2,653.4 168.7,653.4 170.2,653.4 171.7,653.4 173.2,653.4 174.7,653.4 176.2,653.4 177.7,653.4 179.2,653.3 180.7,653.3 182.2,653.3 183.7,653.3 185.2,653.3 186.7,653.3 188.2,653.3 189.7,653.3 191.2,653.3 192.7,653.3 194.2,653.3 195.7,653.3 197.2,653.3 198.7,653.3 200.2,653.3 201.7,653.3 203.2,653.3 204.7,653.3 206.2,653.3 207.7,653.3 209.2,653.3 210.7,653.4 212.2,653.4 213.7,653.4 215.2,653.4 216.7,653.4 218.2,653.5 219.7,653.5 221.2,653.5 222.7,653.6 224.2,653.6 225.7,653.7 227.2,653.7 228.7,653.8 230.2,653.8 231.7,653.9 233.2,654.0 234.7,654.0 236.2,654.1 237.7,654.2 239.2,654.3 240.7,654.3 242.2,654.4 243.7,654.5 245.2,654.6 246.7,654.7 248.2,654.9 249.7,655.0 251.2,655.1 252.7,655.2 254.2,655.4 255.7,655.5 257.2,655.7 258.7,655.8 260.2,656.0 261.7,656.1 263.2,656.3 264.7,656.5 266.2,656.7 267.7,656.9 269.2,657.1 270.7,657.3 272.2,657.5 273.7,657.7 275.2,658.0 276.7,658.2 278.2,658.4 279.7,658.7 281.2,659.0 282.7,659.2 284.2,659.5 285.7,659.8 287.2,660.1 288.7,660.4 290.2,660.7 291.7,661.0 293.2,661.4 294.7,661.7 296.2,662.1 297.7,662.4 299.2,662.8 300.7,663.2 302.2,663.5 303.7,663.9 305.2,664.4 306.7,664.8 308.2,665.2 309.7,665.6 311.2,666.1 312.7,666.5 314.2,667.0 315.7,667.5 317.2,668.0 318.7,668.5 320.2,669.1 321.7,669.7 323.2,670.3 324.7,670.9 326.2,671.6 327.7,672.4 329.2,673.1 330.7,674.0 332.2,674.9 333.7,675.9 335.2,676.9 336.7,678.0 338.2,679.2 339.7,680.5 341.2,681.8 342.7,683.2 344.2,684.7 345.7,686.2 347.2,687.8 348.7,689.5 350.2,691.2 351.7,693.0 353.2,694.8 354.7,696.7 356.2,698.6 357.7,700.6 359.2,702.7 360.7,704.8 362.2,707.1 363.7,709.4 365.2,711.7 366.7,714.2 368.2,716.7 369.7,719.3 371.2,721.9 372.7,724.6 374.2,727.4 375.7,730.3 377.2,733.2 378.7,736.1 380.2,739.1 381.7,742.2 383.2,745.3 384.7,748.4 386.2,751.6 387.7,754.8 389.2,758.0 390.7,761.2 392.2,764.3 393.7,767.5 395.2,770.5 396.7,773.5 398.2,776.4 399.7,779.2 401.2,782.0 402.7,784.6 404.2,787.1 405.7,789.5 407.2,791.8 408.7,794.1 410.2,796.2 411.7,798.2 413.2,800.1 414.7,801.9 416.2,803.5 417.7,805.1 419.2,806.6 420.7,807.9 422.2,809.1 423.7,810.2 425.2,811.2 426.7,812.1 428.2,812.9 429.7,813.5 431.2,814.0 432.7,814.4 434.2,814.6 435.7,814.7 437.2,814.7 438.7,814.6 440.2,814.3 441.7,813.9 443.2,813.4 444.7,812.8 446.2,812.1 447.7,811.3 449.2,810.4 450.7,809.4 452.2,808.3 453.7,807.1 455.2,805.9 456.7,804.5 458.2,803.1 459.7,801.7 461.2,800.2 462.7,798.6 464.2,797.0 465.7,795.3 467.2,793.6 468.7,791.8 470.2,790.1 471.7,788.2 473.2,786.4 474.7,784.6 476.2,782.7 477.7,780.8 479.2,778.9 480.7,777.1 482.2,775.2 483.7,773.3 485.2,771.5 486.7,769.6 488.2,767.8 489.7,766.1 491.2,764.3 492.7,762.6 494.2,760.9 495.7,759.3 497.2,757.7 498.7,756.1 500.2,754.5 501.7,753.0 503.2,751.6 504.7,750.1 506.2,748.7 507.7,747.3 509.2,746.0 510.7,744.7 512.2,743.4 513.7,742.2 515.2,741.0 516.7,739.8 518.2,738.6 519.7,737.5 521.2,736.4 522.7,735.4 524.2,734.4 525.7,733.4 527.2,732.4 528.7,731.5 530.2,730.5 531.7,729.7 533.2,728.8 534.7,728.0 536.2,727.2 537.7,726.4 539.2,725.7 540.7,725.0 542.2,724.3 543.7,723.6 545.2,723.0 546.7,722.4 548.2,721.8 549.7,721.2 551.2,720.7 552.7,720.2 554.2,719.7 555.7,719.2 557.2,718.8 558.7,718.3 560.2,717.9 561.7,717.5 563.2,717.2 564.7,716.8 566.2,716.5 567.7,716.2 569.2,715.9 570.7,715.6 572.2,715.3 573.7,715.1 575.2,714.8 576.7,714.6 578.2,714.4 579.7,714.2 581.2,714.1 582.7,713.9 584.2,713.7 585.7,713.6 587.2,713.5 588.7,713.4 590.2,713.2 591.7,713.1 593.2,713.1 594.7,713.0 596.2,712.9 597.7,712.8 599.2,712.8 600.7,712.7 602.2,712.7 603.7,712.7 605.2,712.6 606.7,712.6 608.2,712.6 609.7,712.6 611.2,712.5 612.7,712.6 614.2,712.6 615.7,712.6 617.2,712.6 618.7,712.7 620.2,712.7 621.7,712.8 623.2,712.9 624.7,713.0 626.2,713.2 627.7,713.3 629.2,713.5 630.7,713.7 632.2,713.9 633.7,714.2 635.2,714.4 636.7,714.7 638.2,715.1 639.7,715.4 641.2,715.8 642.7,716.2 644.2,716.7 645.7,717.2 647.2,717.7 648.7,718.3 650.2,718.9 651.7,719.5 653.2,720.2 654.7,720.9 656.2,721.7 657.7,722.5 659.2,723.4 660.7,724.3 662.2,725.2 663.7,726.2 664.7,726.9" stroke="#B177DE" stroke-width="1.6"/>
<path d="M105.7,655.8 107.2,655.7 108.7,655.7 110.2,655.7 111.7,655.7 113.2,655.7 114.7,655.7 116.2,655.6 117.7,655.6 119.2,655.6 120.7,655.7 122.2,655.7 123.7,655.7 125.2,655.7 126.7,655.7 128.2,655.7 129.7,655.8 131.2,655.8 132.7,655.8 134.2,655.8 135.7,655.9 137.2,655.9 138.7,656.0 140.2,656.0 141.7,656.0 143.2,656.1 144.7,656.1 146.2,656.2 147.7,656.2 149.2,656.3 150.7,656.3 152.2,656.4 153.7,656.5 155.2,656.5 156.7,656.6 158.2,656.6 159.7,656.7 161.2,656.8 162.7,656.8 164.2,656.9 165.7,657.0 167.2,657.0 168.7,657.1 170.2,657.2 171.7,657.2 173.2,657.3 174.7,657.3 176.2,657.4 177.7,657.5 179.2,657.5 180.7,657.6 182.2,657.7 183.7,657.7 185.2,657.8 186.7,657.9 188.2,657.9 189.7,658.0 191.2,658.0 192.7,658.1 194.2,658.2 195.7,658.2 197.2,658.3 198.7,658.3 200.2,658.4 201.7,658.4 203.2,658.5 204.7,658.5 206.2,658.6 207.7,658.6 209.2,658.6 210.7,658.7 212.2,658.7 213.7,658.8 215.2,658.8 216.7,658.8 218.2,658.8 219.7,658.9 221.2,658.9 222.7,658.9 224.2,658.9 225.7,658.9 227.2,658.9 228.7,658.9 230.2,659.0 231.7,659.0 233.2,659.0 234.7,659.0 236.2,659.0 237.7,659.0 239.2,659.0 240.7,659.0 242.2,659.1 243.7,659.1 245.2,659.1 246.7,659.1 248.2,659.2 249.7,659.2 251.2,659.3 252.7,659.3 254.2,659.4 255.7,659.4 257.2,659.5 258.7,659.6 260.2,659.7 261.7,659.8 263.2,659.9 264.7,660.0 266.2,660.1 267.7,660.2 269.2,660.4 270.7,660.5 272.2,660.7 273.7,660.9 275.2,661.1 276.7,661.3 278.2,661.5 279.7,661.7 281.2,661.9 282.7,662.2 284.2,662.5 285.7,662.8 287.2,663.1 288.7,663.4 290.2,663.7 291.7,664.1 293.2,664.4 294.7,664.8 296.2,665.2 297.7,665.6 299.2,666.1 300.7,666.5 302.2,667.0 303.7,667.5 305.2,668.0 306.7,668.6 308.2,669.1 309.7,669.7 311.2,670.3 312.7,670.9 314.2,671.6 315.7,672.3 317.2,673.0 318.7,673.7 320.2,674.5 321.7,675.3 323.2,676.2 324.7,677.1 326.2,678.1 327.7,679.2 329.2,680.3 330.7,681.5 332.2,682.8 333.7,684.1 335.2,685.6 336.7,687.1 338.2,688.8 339.7,690.5 341.2,692.2 342.7,694.0 344.2,695.7 345.7,697.6 347.2,699.5 348.7,701.4 350.2,703.4 351.7,705.5 353.2,707.6 354.7,709.8 356.2,712.1 357.7,714.4 359.2,716.9 360.7,719.4 362.2,722.1 363.7,724.9 365.2,727.7 366.7,730.7 368.2,733.7 369.7,736.8 371.2,740.0 372.7,743.3 374.2,746.6 375.7,749.9 377.2,753.3 378.7,756.6 380.2,760.0 381.7,763.4 383.2,766.8 384.7,770.1 386.2,773.5 387.7,776.8 389.2,780.0 390.7,783.2 392.2,786.4 393.7,789.4 395.2,792.4 396.7,795.3 398.2,798.1 399.7,800.7 401.2,803.3 402.7,805.8 404.2,808.2 405.7,810.5 407.2,812.6 408.7,814.7 410.2,816.6 411.7,818.5 413.2,820.2 414.7,821.8 416.2,823.3 417.7,824.6 419.2,825.9 420.7,827.0 422.2,828.0 423.7,828.9 425.2,829.6 426.7,830.2 428.2,830.7 429.7,831.0 431.2,831.2 432.7,831.3 434.2,831.3 435.7,831.1 437.2,830.7 438.7,830.3 440.2,829.7 441.7,829.0 443.2,828.2 444.7,827.3 446.2,826.3 447.7,825.2 449.2,824.0 450.7,822.7 452.2,821.3 453.7,819.9 455.2,818.4 456.7,816.8 458.2,815.1 459.7,813.4 461.2,811.7 462.7,809.9 464.2,808.0 465.7,806.1 467.2,804.2 468.7,802.2 470.2,800.2 471.7,798.2 473.2,796.2 474.7,794.2 476.2,792.2 477.7,790.1 479.2,788.1 480.7,786.1 482.2,784.1 483.7,782.1 485.2,780.1 486.7,778.2 488.2,776.3 489.7,774.4 491.2,772.6 492.7,770.8 494.2,769.0 495.7,767.3 497.2,765.6 498.7,763.9 500.2,762.3 501.7,760.7 503.2,759.1 504.7,757.6 506.2,756.1 507.7,754.7 509.2,753.2 510.7,751.9 512.2,750.5 513.7,749.2 515.2,747.9 516.7,746.6 518.2,745.4 519.7,744.2 521.2,743.1 522.7,741.9 524.2,740.9 525.7,739.8 527.2,738.8 528.7,737.8 530.2,736.8 531.7,735.9 533.2,735.0 534.7,734.1 536.2,733.3 537.7,732.5 539.2,731.7 540.7,730.9 542.2,730.2 543.7,729.5 545.2,728.9 546.7,728.2 548.2,727.6 549.7,727.1 551.2,726.5 552.7,726.0 554.2,725.5 555.7,725.0 557.2,724.6 558.7,724.2 560.2,723.8 561.7,723.4 563.2,723.0 564.7,722.7 566.2,722.4 567.7,722.1 569.2,721.8 570.7,721.5 572.2,721.3 573.7,721.1 575.2,720.9 576.7,720.7 578.2,720.5 579.7,720.4 581.2,720.3 582.7,720.1 584.2,720.0 585.7,719.9 587.2,719.9 588.7,719.8 590.2,719.8 591.7,719.7 593.2,719.7 594.7,719.7 596.2,719.6 597.7,719.6 599.2,719.6 600.7,719.7 602.2,719.7 603.7,719.7 605.2,719.8 606.7,719.8 608.2,719.8 609.7,719.9 611.2,720.0 612.7,720.0 614.2,720.1 615.7,720.2 617.2,720.3 618.7,720.5 620.2,720.6 621.7,720.8 623.2,720.9 624.7,721.1 626.2,721.3 627.7,721.6 629.2,721.8 630.7,722.1 632.2,722.4 633.7,722.8 635.2,723.1 636.7,723.5 638.2,723.9 639.7,724.3 641.2,724.8 642.7,725.3 644.2,725.9 645.7,726.4 647.2,727.0 648.7,727.7 650.2,728.4 651.7,729.1 653.2,729.9 654.7,730.7 656.2,731.5 657.7,732.4 659.2,733.3 660.7,734.3 662.2,735.3 663.7,736.4 664.7,737.1" stroke="#CC9900" stroke-width="1.6"/>
<path d="M105.7,651.4 107.2,651.3 108.7,651.3 110.2,651.2 111.7,651.2 113.2,651.2 114.7,651.1 116.2,651.1 117.7,651.1 119.2,651.1 120.7,651.1 122.2,651.1 123.7,651.1 125.2,651.1 126.7,651.1 128.2,651.1 129.7,651.1 131.2,651.1 132.7,651.2 134.2,651.2 135.7,651.2 137.2,651.3 138.7,651.3 140.2,651.3 141.7,651.4 143.2,651.4 144.7,651.4 146.2,651.5 147.7,651.5 149.2,651.6 150.7,651.6 152.2,651.7 153.7,651.7 155.2,651.8 156.7,651.9 158.2,651.9 159.7,652.0 161.2,652.0 162.7,652.1 164.2,652.2 165.7,652.2 167.2,652.3 168.7,652.3 170.2,652.4 171.7,652.5 173.2,652.5 174.7,652.6 176.2,652.7 177.7,652.7 179.2,652.8 180.7,652.9 182.2,652.9 183.7,653.0 185.2,653.0 186.7,653.1 188.2,653.2 189.7,653.2 191.2,653.3 192.7,653.3 194.2,653.4 195.7,653.4 197.2,653.5 198.7,653.5 200.2,653.6 201.7,653.6 203.2,653.6 204.7,653.7 206.2,653.7 207.7,653.8 209.2,653.8 210.7,653.8 212.2,653.8 213.7,653.9 215.2,653.9 216.7,653.9 218.2,653.9 219.7,653.9 221.2,653.9 222.7,653.9 224.2,653.9 225.7,653.9 227.2,653.9 228.7,653.9 230.2,653.9 231.7,653.9 233.2,653.9 234.7,653.9 236.2,653.9 237.7,653.9 239.2,653.9 240.7,653.9 242.2,653.9 243.7,653.9 245.2,653.9 246.7,653.9 248.2,654.0 249.7,654.0 251.2,654.1 252.7,654.1 254.2,654.2 255.7,654.2 257.2,654.3 258.7,654.4 260.2,654.5 261.7,654.6 263.2,654.8 264.7,654.9 266.2,655.1 267.7,655.2 269.2,655.4 270.7,655.6 272.2,655.8 273.7,656.1 275.2,656.3 276.7,656.6 278.2,656.9 279.7,657.2 281.2,657.5 282.7,657.8 284.2,658.2 285.7,658.6 287.2,659.0 288.7,659.4 290.2,659.8 291.7,660.3 293.2,660.8 294.7,661.3 296.2,661.8 297.7,662.4 299.2,663.0 300.7,663.6 302.2,664.3 303.7,664.9 305.2,665.6 306.7,666.4 308.2,667.1 309.7,667.9 311.2,668.7 312.7,669.6 314.2,670.5 315.7,671.4 317.2,672.4 318.7,673.3 320.2,674.4 321.7,675.5 323.2,676.6 324.7,677.8 326.2,679.1 327.7,680.4 329.2,681.8 330.7,683.2 332.2,684.7 333.7,686.3 335.2,688.0 336.7,689.8 338.2,691.6 339.7,693.6 341.2,695.6 342.7,697.8 344.2,700.0 345.7,702.3 347.2,704.8 348.7,707.3 350.2,710.0 351.7,712.8 353.2,715.7 354.7,718.8 356.2,721.9 357.7,725.2 359.2,728.7 360.7,732.3 362.2,736.0 363.7,739.8 365.2,743.8 366.7,748.0 368.2,752.2 369.7,756.6 371.2,761.1 372.7,765.7 374.2,770.4 375.7,775.1 377.2,780.0 378.7,784.9 380.2,789.8 381.7,794.8 383.2,799.9 384.7,804.9 386.2,810.0 387.7,815.1 389.2,820.1 390.7,825.2 392.2,830.2 393.7,835.1 395.2,840.1 396.7,844.9 398.2,849.7 399.7,854.4 401.2,859.1 402.7,863.6 404.2,868.0 405.7,872.3 407.2,876.5 408.7,880.6 410.2,884.5 411.7,888.3 413.2,891.9 414.7,895.3 416.2,898.5 417.7,901.6 419.2,904.5 420.7,907.1 422.2,909.5 423.7,911.8 425.2,913.7 426.7,915.4 428.2,916.9 429.7,918.1 431.2,919.0 432.7,919.7 434.2,920.0 435.7,920.1 437.2,919.8 438.7,919.3 440.2,918.4 441.7,917.3 443.2,916.0 444.7,914.4 446.2,912.6 447.7,910.6 449.2,908.4 450.7,906.1 452.2,903.6 453.7,901.0 455.2,898.3 456.7,895.5 458.2,892.6 459.7,889.7 461.2,886.7 462.7,883.7 464.2,880.7 465.7,877.7 467.2,874.7 468.7,871.7 470.2,868.8 471.7,865.9 473.2,863.1 474.7,860.4 476.2,857.8 477.7,855.3 479.2,852.8 480.7,850.2 482.2,847.6 483.7,845.0 485.2,842.2 486.7,839.4 488.2,836.6 489.7,833.7 491.2,830.8 492.7,827.9 494.2,824.9 495.7,822.0 497.2,819.1 498.7,816.2 500.2,813.3 501.7,810.5 503.2,807.8 504.7,805.1 506.2,802.5 507.7,799.9 509.2,797.5 510.7,795.1 512.2,792.9 513.7,790.7 515.2,788.6 516.7,786.6 518.2,784.7 519.7,782.8 521.2,781.0 522.7,779.3 524.2,777.7 525.7,776.1 527.2,774.5 528.7,773.0 530.2,771.6 531.7,770.2 533.2,768.8 534.7,767.5 536.2,766.2 537.7,764.9 539.2,763.7 540.7,762.5 542.2,761.3 543.7,760.2 545.2,759.0 546.7,757.9 548.2,756.9 549.7,755.8 551.2,754.8 552.7,753.8 554.2,752.8 555.7,751.9 557.2,751.0 558.7,750.1 560.2,749.2 561.7,748.4 563.2,747.5 564.7,746.8 566.2,746.0 567.7,745.2 569.2,744.5 570.7,743.8 572.2,743.2 573.7,742.5 575.2,741.9 576.7,741.3 578.2,740.7 579.7,740.2 581.2,739.7 582.7,739.2 584.2,738.7 585.7,738.2 587.2,737.8 588.7,737.4 590.2,737.0 591.7,736.6 593.2,736.3 594.7,736.0 596.2,735.7 597.7,735.4 599.2,735.2 600.7,735.0 602.2,734.8 603.7,734.6 605.2,734.4 606.7,734.3 608.2,734.2 609.7,734.1 611.2,734.1 612.7,734.0 614.2,734.0 615.7,734.0 617.2,734.0 618.7,734.1 620.2,734.1 621.7,734.2 623.2,734.3 624.7,734.5 626.2,734.6 627.7,734.8 629.2,735.0 630.7,735.2 632.2,735.4 633.7,735.7 635.2,736.0 636.7,736.3 638.2,736.6 639.7,736.9 641.2,737.3 642.7,737.7 644.2,738.1 645.7,738.5 647.2,738.9 648.7,739.4 650.2,739.9 651.7,740.4 653.2,740.9 654.7,741.4 656.2,742.0 657.7,742.5 659.2,743.1 660.7,743.8 662.2,744.4 663.7,745.0 664.7,745.5" stroke="#00CBCC" stroke-width="1.9"/>
<path d="M105.7,652.5 107.2,652.6 108.7,652.6 110.2,652.7 111.7,652.7 113.2,652.8 114.7,652.8 116.2,652.8 117.7,652.9 119.2,652.9 120.7,653.0 122.2,653.0 123.7,653.0 125.2,653.1 126.7,653.1 128.2,653.2 129.7,653.2 131.2,653.3 132.7,653.3 134.2,653.3 135.7,653.4 137.2,653.4 138.7,653.5 140.2,653.5 141.7,653.6 143.2,653.6 144.7,653.6 146.2,653.7 147.7,653.7 149.2,653.8 150.7,653.8 152.2,653.9 153.7,653.9 155.2,653.9 156.7,654.0 158.2,654.0 159.7,654.1 161.2,654.1 162.7,654.2 164.2,654.2 165.7,654.2 167.2,654.3 168.7,654.3 170.2,654.4 171.7,654.4 173.2,654.5 174.7,654.5 176.2,654.6 177.7,654.6 179.2,654.7 180.7,654.7 182.2,654.7 183.7,654.8 185.2,654.8 186.7,654.9 188.2,654.9 189.7,655.0 191.2,655.0 192.7,655.1 194.2,655.1 195.7,655.1 197.2,655.2 198.7,655.2 200.2,655.3 201.7,655.3 203.2,655.4 204.7,655.4 206.2,655.5 207.7,655.5 209.2,655.6 210.7,655.6 212.2,655.7 213.7,655.7 215.2,655.7 216.7,655.8 218.2,655.8 219.7,655.9 221.2,655.9 222.7,656.0 224.2,656.0 225.7,656.1 227.2,656.1 228.7,656.2 230.2,656.2 231.7,656.3 233.2,656.3 234.7,656.3 236.2,656.4 237.7,656.4 239.2,656.5 240.7,656.5 242.2,656.6 243.7,656.6 245.2,656.7 246.7,656.7 248.2,656.8 249.7,656.8 251.2,656.9 252.7,656.9 254.2,657.0 255.7,657.0 257.2,657.1 258.7,657.1 260.2,657.2 261.7,657.2 263.2,657.3 264.7,657.4 266.2,657.4 267.7,657.5 269.2,657.6 270.7,657.7 272.2,657.8 273.7,658.0 275.2,658.1 276.7,658.3 278.2,658.5 279.7,658.7 281.2,658.9 282.7,659.1 284.2,659.4 285.7,659.6 287.2,659.9 288.7,660.3 290.2,660.6 291.7,661.0 293.2,661.4 294.7,661.8 296.2,662.3 297.7,662.8 299.2,663.3 300.7,663.8 302.2,664.4 303.7,665.0 305.2,665.7 306.7,666.4 308.2,667.1 309.7,667.9 311.2,668.7 312.7,669.5 314.2,670.4 315.7,671.4 317.2,672.3 318.7,673.4 320.2,674.4 321.7,675.6 323.2,676.7 324.7,678.0 326.2,679.3 327.7,680.6 329.2,682.0 330.7,683.5 332.2,685.1 333.7,686.8 335.2,688.5 336.7,690.4 338.2,692.4 339.7,694.4 341.2,696.6 342.7,698.8 344.2,701.2 345.7,703.7 347.2,706.4 348.7,709.2 350.2,712.1 351.7,715.1 353.2,718.3 354.7,721.6 356.2,725.1 357.7,728.8 359.2,732.6 360.7,736.6 362.2,740.7 363.7,745.1 365.2,749.6 366.7,754.3 368.2,759.1 369.7,764.2 371.2,769.3 372.7,774.6 374.2,780.0 375.7,785.5 377.2,791.1 378.7,796.8 380.2,802.6 381.7,808.4 383.2,814.2 384.7,820.1 386.2,826.0 387.7,831.9 389.2,837.8 390.7,843.7 392.2,849.6 393.7,855.4 395.2,861.2 396.7,866.9 398.2,872.5 399.7,878.0 401.2,883.4 402.7,888.8 404.2,894.0 405.7,899.0 407.2,904.0 408.7,908.8 410.2,913.4 411.7,917.8 413.2,922.1 414.7,926.2 416.2,930.1 417.7,933.8 419.2,937.3 420.7,940.5 422.2,943.6 423.7,946.3 425.2,948.8 426.7,951.1 428.2,953.0 429.7,954.5 431.2,955.8 432.7,956.6 434.2,957.1 435.7,957.2 437.2,956.8 438.7,956.0 440.2,954.7 441.7,952.9 443.2,950.7 444.7,948.1 446.2,945.2 447.7,942.0 449.2,938.6 450.7,934.9 452.2,931.1 453.7,927.1 455.2,923.1 456.7,919.0 458.2,914.8 459.7,910.5 461.2,906.2 462.7,901.9 464.2,897.5 465.7,893.1 467.2,888.7 468.7,884.3 470.2,879.9 471.7,875.5 473.2,871.2 474.7,866.9 476.2,862.6 477.7,858.3 479.2,854.1 480.7,849.9 482.2,845.8 483.7,841.8 485.2,837.8 486.7,833.9 488.2,830.0 489.7,826.3 491.2,822.6 492.7,819.1 494.2,815.6 495.7,812.2 497.2,808.9 498.7,805.7 500.2,802.5 501.7,799.4 503.2,796.5 504.7,793.6 506.2,790.7 507.7,788.0 509.2,785.3 510.7,782.7 512.2,780.2 513.7,777.7 515.2,775.4 516.7,773.0 518.2,770.8 519.7,768.6 521.2,766.5 522.7,764.5 524.2,762.5 525.7,760.6 527.2,758.7 528.7,757.0 530.2,755.2 531.7,753.6 533.2,752.0 534.7,750.4 536.2,748.9 537.7,747.5 539.2,746.1 540.7,744.7 542.2,743.5 543.7,742.2 545.2,741.0 546.7,739.9 548.2,738.8 549.7,737.8 551.2,736.8 552.7,735.8 554.2,734.9 555.7,734.0 557.2,733.2 558.7,732.4 560.2,731.6 561.7,730.9 563.2,730.2 564.7,729.6 566.2,728.9 567.7,728.3 569.2,727.8 570.7,727.3 572.2,726.8 573.7,726.3 575.2,725.8 576.7,725.4 578.2,725.0 579.7,724.6 581.2,724.3 582.7,723.9 584.2,723.6 585.7,723.3 587.2,723.0 588.7,722.7 590.2,722.5 591.7,722.2 593.2,722.0 594.7,721.8 596.2,721.5 597.7,721.3 599.2,721.1 600.7,720.9 602.2,720.7 603.7,720.5 605.2,720.4 606.7,720.2 608.2,720.0 609.7,719.8 611.2,719.6 612.7,719.5 614.2,719.3 615.7,719.1 617.2,719.0 618.7,718.8 620.2,718.7 621.7,718.6 623.2,718.4 624.7,718.3 626.2,718.3 627.7,718.2 629.2,718.1 630.7,718.1 632.2,718.1 633.7,718.1 635.2,718.1 636.7,718.1 638.2,718.2 639.7,718.3 641.2,718.4 642.7,718.5 644.2,718.7 645.7,718.9 647.2,719.1 648.7,719.4 650.2,719.6 651.7,720.0 653.2,720.3 654.7,720.7 656.2,721.1 657.7,721.6 659.2,722.0 660.7,722.6 662.2,723.1 663.7,723.7 664.7,724.2" stroke="#7D4E4E" stroke-width="1.4"/>
</g>
<path d="M113.3,1131.15V1548.60" stroke="#111" stroke-width="1.25"/>
<path d="M679.5,1131.15V1548.60" stroke="#111" stroke-width="2.2"/>
<path d="M112.67,1131.8H680.60" stroke="#111" stroke-width="1.3"/>
<path d="M112.67,1547.6H680.60" stroke="#111" stroke-width="2.0"/>
<path d="M105.0,1131.8H113.3M105.0,1201.1H113.3M105.0,1270.4H113.3M105.0,1339.7H113.3M105.0,1409.0H113.3M105.0,1478.3H113.3M105.0,1547.6H113.3M109.0,1166.5H113.3M109.0,1235.8H113.3M109.0,1305.0H113.3M109.0,1374.3H113.3M109.0,1443.6H113.3M109.0,1512.9H113.3" stroke="#111" stroke-width="1.4" fill="none"/>
<path d="M160.5,1547.6V1556.4M254.9,1547.6V1556.4M349.2,1547.6V1556.4M443.6,1547.6V1556.4M538.0,1547.6V1556.4M632.3,1547.6V1556.4M113.3,1547.6V1552.2M207.7,1547.6V1552.2M302.0,1547.6V1552.2M396.4,1547.6V1552.2M490.8,1547.6V1552.2M585.1,1547.6V1552.2M679.5,1547.6V1552.2" stroke="#111" stroke-width="1.8" fill="none"/>
<text transform="translate(99.0,1139.8) scale(0.955,1)" font-size="27.8" text-anchor="end" fill="#000" stroke="#000">5</text>
<text transform="translate(99.0,1209.1) scale(0.955,1)" font-size="27.8" text-anchor="end" fill="#000" stroke="#000">0</text>
<text transform="translate(99.0,1278.4) scale(0.955,1)" font-size="27.8" text-anchor="end" fill="#000" stroke="#000">-5</text>
<text transform="translate(99.0,1347.7) scale(0.955,1)" font-size="27.8" text-anchor="end" fill="#000" stroke="#000">-10</text>
<text transform="translate(99.0,1417.0) scale(0.955,1)" font-size="27.8" text-anchor="end" fill="#000" stroke="#000">-15</text>
<text transform="translate(99.0,1486.3) scale(0.955,1)" font-size="27.8" text-anchor="end" fill="#000" stroke="#000">-20</text>
<text transform="translate(99.0,1555.6) scale(0.955,1)" font-size="27.8" text-anchor="end" fill="#000" stroke="#000">-25</text>
<text transform="translate(160.8,1581.6) scale(0.955,1)" font-size="27.8" text-anchor="middle" fill="#000" stroke="#000">0</text>
<text transform="translate(255.2,1581.6) scale(0.955,1)" font-size="27.8" text-anchor="middle" fill="#000" stroke="#000">2</text>
<text transform="translate(349.5,1581.6) scale(0.955,1)" font-size="27.8" text-anchor="middle" fill="#000" stroke="#000">4</text>
<text transform="translate(443.9,1581.6) scale(0.955,1)" font-size="27.8" text-anchor="middle" fill="#000" stroke="#000">6</text>
<text transform="translate(538.2,1581.6) scale(0.955,1)" font-size="27.8" text-anchor="middle" fill="#000" stroke="#000">8</text>
<text transform="translate(632.6,1581.6) scale(0.955,1)" font-size="27.8" text-anchor="middle" fill="#000" stroke="#000">10</text>
<text transform="translate(356.9,1610.8) scale(0.96,1)" font-size="27.7" fill="#000" stroke="#000" style="font-kerning:none">C<tspan font-size="17.3" dy="7.2">FA</tspan><tspan dy="-7.2"> / μM</tspan></text>
<text transform="translate(47.2,1365.2) rotate(-90) scale(0.975,1)" font-size="25.6" fill="#000" stroke="#000" style="font-kerning:none">I<tspan font-size="16.8" dy="6.6">FA</tspan><tspan dy="-6.6"> / μA</tspan></text>
<text transform="translate(137.0,1171.6) scale(1.03,1)" font-size="25.8" text-anchor="start" fill="#000" stroke="#000">(c)</text>
<text transform="translate(180.0,1195.5) scale(0.97,1)" font-size="26.8" text-anchor="start" fill="#FF0000" stroke="#FF0000">0.1 μM</text>
<text transform="translate(599.3,1462.2) scale(0.97,1)" font-size="26.8" text-anchor="start" fill="#FF0000" stroke="#FF0000">10 μM</text>
<text transform="translate(392.5,1221.7) scale(0.957,1)" font-size="27.6" fill="#000" stroke="#000" style="font-kerning:none">I<tspan font-size="17.4" dy="6.3">FA</tspan><tspan dy="-6.3">= −2.035 C</tspan><tspan font-size="17.4" dy="6.3">FA</tspan><tspan dy="-6.3">−0.5856</tspan></text>
<text transform="translate(392.5,1262.9) scale(0.957,1)" font-size="27.6" fill="#000" stroke="#000" style="font-kerning:none">R<tspan font-size="17.4" dy="-9.4">2</tspan><tspan dy="9.4">= 0.993</tspan></text>
<path d="M207.7,1237.2V1254.6M202.7,1237.2h10M202.7,1254.6h10M254.9,1261.3V1268.3M249.9,1261.3h10M249.9,1268.3h10M302.0,1278.1V1293.9M297.0,1278.1h10M297.0,1293.9h10M349.2,1302.8V1324.6M344.2,1302.8h10M344.2,1324.6h10M396.4,1341.9V1363.3M391.4,1341.9h10M391.4,1363.3h10M443.6,1372.2V1379.2M438.6,1372.2h10M438.6,1379.2h10M538.0,1441.6V1459.2M533.0,1441.6h10M533.0,1459.2h10M632.3,1493.7V1528.5M627.3,1493.7h10M627.3,1528.5h10" stroke="#000" stroke-width="1.55" fill="none"/>
<rect x="160.6" y="1208.1" width="9.2" height="9.2" fill="#000"/>
<rect x="174.8" y="1215.6" width="9.2" height="9.2" fill="#000"/>
<rect x="179.5" y="1219.4" width="9.2" height="9.2" fill="#000"/>
<rect x="184.2" y="1222.5" width="9.2" height="9.2" fill="#000"/>
<rect x="193.6" y="1226.5" width="9.2" height="9.2" fill="#000"/>
<rect x="203.1" y="1241.3" width="9.2" height="9.2" fill="#000"/>
<rect x="250.3" y="1260.2" width="9.2" height="9.2" fill="#000"/>
<rect x="297.4" y="1281.4" width="9.2" height="9.2" fill="#000"/>
<rect x="344.6" y="1309.1" width="9.2" height="9.2" fill="#000"/>
<rect x="391.8" y="1348.0" width="9.2" height="9.2" fill="#000"/>
<rect x="439.0" y="1371.1" width="9.2" height="9.2" fill="#000"/>
<rect x="533.4" y="1445.8" width="9.2" height="9.2" fill="#000"/>
<rect x="627.7" y="1506.5" width="9.2" height="9.2" fill="#000"/>
<path d="M165.2,1212.0L632.3,1491.3" stroke="#FF0000" stroke-width="1.5"/>
</svg>
</body></html>
